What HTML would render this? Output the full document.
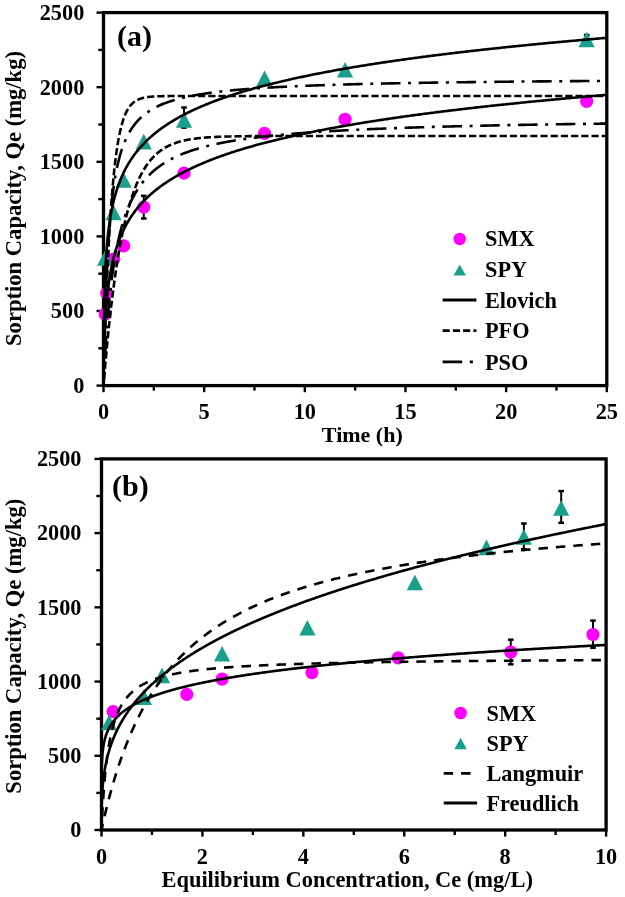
<!DOCTYPE html>
<html><head><meta charset="utf-8"><style>
html,body{margin:0;padding:0;background:#fff;width:625px;height:897px;overflow:hidden}
svg{position:absolute;left:0;top:0;will-change:transform}
.t{font-family:"Liberation Serif", serif;font-weight:bold;font-size:22.30px;fill:#000}
.big{font-family:"Liberation Serif", serif;font-weight:bold;font-size:30px;fill:#000}
</style></head><body>
<svg width="625" height="897" viewBox="0 0 625 897">
<rect x="103.50" y="12.60" width="503.30" height="373.00" fill="none" stroke="#000" stroke-width="3.3"/>
<line x1="96.50" y1="385.60" x2="103.50" y2="385.60" stroke="#000" stroke-width="2.4"/>
<text x="84.30" y="392.90" text-anchor="end" class="t">0</text>
<line x1="98.30" y1="348.30" x2="103.50" y2="348.30" stroke="#000" stroke-width="2.4"/>
<line x1="96.50" y1="311.00" x2="103.50" y2="311.00" stroke="#000" stroke-width="2.4"/>
<text x="84.30" y="318.30" text-anchor="end" class="t">500</text>
<line x1="98.30" y1="273.70" x2="103.50" y2="273.70" stroke="#000" stroke-width="2.4"/>
<line x1="96.50" y1="236.40" x2="103.50" y2="236.40" stroke="#000" stroke-width="2.4"/>
<text x="84.30" y="243.70" text-anchor="end" class="t">1000</text>
<line x1="98.30" y1="199.10" x2="103.50" y2="199.10" stroke="#000" stroke-width="2.4"/>
<line x1="96.50" y1="161.80" x2="103.50" y2="161.80" stroke="#000" stroke-width="2.4"/>
<text x="84.30" y="169.10" text-anchor="end" class="t">1500</text>
<line x1="98.30" y1="124.50" x2="103.50" y2="124.50" stroke="#000" stroke-width="2.4"/>
<line x1="96.50" y1="87.20" x2="103.50" y2="87.20" stroke="#000" stroke-width="2.4"/>
<text x="84.30" y="94.50" text-anchor="end" class="t">2000</text>
<line x1="98.30" y1="49.90" x2="103.50" y2="49.90" stroke="#000" stroke-width="2.4"/>
<line x1="96.50" y1="12.60" x2="103.50" y2="12.60" stroke="#000" stroke-width="2.4"/>
<text x="84.30" y="19.90" text-anchor="end" class="t">2500</text>
<line x1="103.50" y1="385.60" x2="103.50" y2="392.20" stroke="#000" stroke-width="2.4"/>
<text x="103.50" y="419.20" text-anchor="middle" class="t">0</text>
<line x1="153.83" y1="385.60" x2="153.83" y2="390.60" stroke="#000" stroke-width="2.4"/>
<line x1="204.16" y1="385.60" x2="204.16" y2="392.20" stroke="#000" stroke-width="2.4"/>
<text x="204.16" y="419.20" text-anchor="middle" class="t">5</text>
<line x1="254.49" y1="385.60" x2="254.49" y2="390.60" stroke="#000" stroke-width="2.4"/>
<line x1="304.82" y1="385.60" x2="304.82" y2="392.20" stroke="#000" stroke-width="2.4"/>
<text x="304.82" y="419.20" text-anchor="middle" class="t">10</text>
<line x1="355.15" y1="385.60" x2="355.15" y2="390.60" stroke="#000" stroke-width="2.4"/>
<line x1="405.48" y1="385.60" x2="405.48" y2="392.20" stroke="#000" stroke-width="2.4"/>
<text x="405.48" y="419.20" text-anchor="middle" class="t">15</text>
<line x1="455.81" y1="385.60" x2="455.81" y2="390.60" stroke="#000" stroke-width="2.4"/>
<line x1="506.14" y1="385.60" x2="506.14" y2="392.20" stroke="#000" stroke-width="2.4"/>
<text x="506.14" y="419.20" text-anchor="middle" class="t">20</text>
<line x1="556.47" y1="385.60" x2="556.47" y2="390.60" stroke="#000" stroke-width="2.4"/>
<line x1="606.80" y1="385.60" x2="606.80" y2="392.20" stroke="#000" stroke-width="2.4"/>
<text x="606.80" y="419.20" text-anchor="middle" class="t">25</text>
<line x1="184.03" y1="107.50" x2="184.03" y2="127.60" stroke="#000" stroke-width="2.0"/>
<line x1="181.23" y1="107.50" x2="186.83" y2="107.50" stroke="#000" stroke-width="2.5"/>
<line x1="181.23" y1="127.60" x2="186.83" y2="127.60" stroke="#000" stroke-width="2.5"/>
<line x1="586.67" y1="35.00" x2="586.67" y2="45.00" stroke="#000" stroke-width="2.0"/>
<line x1="583.87" y1="35.00" x2="589.47" y2="35.00" stroke="#000" stroke-width="2.5"/>
<line x1="583.87" y1="45.00" x2="589.47" y2="45.00" stroke="#000" stroke-width="2.5"/>
<line x1="143.76" y1="195.82" x2="143.76" y2="218.50" stroke="#000" stroke-width="2.0"/>
<line x1="140.96" y1="195.82" x2="146.56" y2="195.82" stroke="#000" stroke-width="2.5"/>
<line x1="140.96" y1="218.50" x2="146.56" y2="218.50" stroke="#000" stroke-width="2.5"/>
<circle cx="105.17" cy="313.98" r="6.60" fill="#ff00ff"/>
<circle cx="106.72" cy="293.10" r="6.60" fill="#ff00ff"/>
<circle cx="113.57" cy="259.08" r="6.60" fill="#ff00ff"/>
<circle cx="123.63" cy="245.95" r="6.60" fill="#ff00ff"/>
<circle cx="143.76" cy="207.16" r="6.60" fill="#ff00ff"/>
<circle cx="184.03" cy="173.14" r="6.60" fill="#ff00ff"/>
<circle cx="264.56" cy="133.45" r="6.60" fill="#ff00ff"/>
<circle cx="345.08" cy="119.28" r="6.60" fill="#ff00ff"/>
<circle cx="586.67" cy="101.37" r="6.60" fill="#ff00ff"/>
<path d="M105.17,250.23 L113.27,265.83 L97.07,265.83 Z" fill="#1b9f8d"/>
<path d="M113.57,204.73 L121.67,220.33 L105.47,220.33 Z" fill="#1b9f8d"/>
<path d="M123.63,172.20 L131.73,187.80 L115.53,187.80 Z" fill="#1b9f8d"/>
<path d="M143.76,133.86 L151.86,149.46 L135.66,149.46 Z" fill="#1b9f8d"/>
<path d="M184.03,112.22 L192.13,127.82 L175.93,127.82 Z" fill="#1b9f8d"/>
<path d="M264.56,70.45 L272.66,86.05 L256.46,86.05 Z" fill="#1b9f8d"/>
<path d="M345.08,61.94 L353.18,77.54 L336.98,77.54 Z" fill="#1b9f8d"/>
<path d="M586.67,31.66 L594.77,47.26 L578.57,47.26 Z" fill="#1b9f8d"/>
<path d="M103.50,385.60 L103.50,385.47 L103.50,385.01 L103.50,384.17 L103.51,382.95 L103.51,381.35 L103.52,379.40 L103.53,377.14 L103.54,374.60 L103.55,371.84 L103.56,368.88 L103.58,365.78 L103.59,362.58 L103.61,359.30 L103.63,355.98 L103.65,352.63 L103.67,349.29 L103.70,345.95 L103.72,342.65 L103.75,339.39 L103.78,336.17 L103.82,333.00 L103.85,329.89 L103.89,326.84 L103.92,323.85 L103.96,320.92 L104.00,318.05 L104.05,315.24 L104.09,312.49 L104.14,309.80 L104.19,307.17 L104.24,304.60 L104.30,302.08 L104.35,299.62 L104.41,297.21 L104.47,294.85 L104.53,292.54 L104.60,290.28 L104.66,288.07 L104.73,285.90 L104.80,283.78 L104.87,281.70 L104.95,279.66 L105.03,277.66 L105.11,275.69 L105.19,273.77 L105.27,271.88 L105.36,270.02 L105.44,268.20 L105.53,266.41 L105.63,264.66 L105.72,262.93 L105.82,261.23 L105.92,259.56 L106.02,257.92 L106.12,256.31 L106.23,254.72 L106.34,253.16 L106.45,251.62 L106.56,250.11 L106.68,248.62 L106.79,247.15 L106.91,245.71 L107.04,244.28 L107.16,242.88 L107.29,241.50 L107.42,240.13 L107.55,238.79 L107.68,237.46 L107.82,236.16 L107.96,234.87 L108.10,233.59 L108.24,232.34 L108.39,231.10 L108.54,229.87 L108.69,228.66 L108.84,227.47 L109.00,226.29 L109.16,225.13 L109.32,223.98 L109.48,222.84 L109.65,221.72 L109.81,220.61 L109.98,219.51 L110.16,218.43 L110.33,217.36 L110.51,216.30 L110.69,215.25 L110.87,214.22 L111.06,213.19 L111.25,212.18 L111.44,211.17 L111.63,210.18 L111.83,209.20 L112.03,208.23 L112.23,207.26 L112.43,206.31 L112.64,205.37 L112.85,204.44 L113.06,203.51 L113.27,202.60 L113.49,201.69 L113.71,200.79 L113.93,199.90 L114.15,199.02 L114.38,198.15 L114.61,197.29 L114.84,196.43 L115.07,195.58 L115.31,194.74 L115.55,193.91 L115.79,193.08 L116.04,192.26 L116.28,191.45 L116.53,190.65 L116.79,189.85 L117.04,189.06 L117.30,188.27 L117.56,187.49 L117.83,186.72 L118.09,185.96 L118.36,185.20 L118.63,184.45 L118.91,183.70 L119.18,182.96 L119.46,182.22 L119.74,181.49 L120.03,180.77 L120.32,180.05 L120.61,179.34 L120.90,178.63 L121.20,177.93 L121.50,177.23 L121.80,176.54 L122.10,175.86 L122.41,175.18 L122.72,174.50 L123.03,173.83 L123.34,173.16 L123.66,172.50 L123.98,171.84 L124.31,171.19 L124.63,170.54 L124.96,169.90 L125.29,169.26 L125.63,168.62 L125.96,167.99 L126.30,167.37 L126.65,166.75 L126.99,166.13 L127.34,165.52 L127.69,164.91 L128.04,164.30 L128.40,163.70 L128.76,163.10 L129.12,162.51 L129.49,161.92 L129.86,161.33 L130.23,160.75 L130.60,160.17 L130.98,159.59 L131.36,159.02 L131.74,158.45 L132.12,157.89 L132.51,157.32 L132.90,156.77 L133.29,156.21 L133.69,155.66 L134.09,155.11 L134.49,154.57 L134.90,154.02 L135.30,153.48 L135.71,152.95 L136.13,152.42 L136.54,151.89 L136.96,151.36 L137.39,150.84 L137.81,150.32 L138.24,149.80 L138.67,149.28 L139.10,148.77 L139.54,148.26 L139.98,147.76 L140.42,147.25 L140.87,146.75 L141.32,146.25 L141.77,145.76 L142.22,145.26 L142.68,144.77 L143.14,144.29 L143.60,143.80 L144.07,143.32 L144.54,142.84 L145.01,142.36 L145.48,141.89 L145.96,141.41 L146.44,140.94 L146.92,140.47 L147.41,140.01 L147.90,139.54 L148.39,139.08 L148.89,138.63 L149.38,138.17 L149.89,137.71 L150.39,137.26 L150.90,136.81 L151.41,136.36 L151.92,135.92 L152.44,135.48 L152.96,135.03 L153.48,134.60 L154.00,134.16 L154.53,133.72 L155.06,133.29 L155.60,132.86 L156.13,132.43 L156.67,132.00 L157.22,131.58 L157.76,131.16 L158.31,130.73 L158.86,130.32 L159.42,129.90 L159.98,129.48 L160.54,129.07 L161.10,128.66 L161.67,128.25 L162.24,127.84 L162.81,127.43 L163.39,127.03 L163.97,126.63 L164.55,126.22 L165.14,125.82 L165.73,125.43 L166.32,125.03 L166.91,124.64 L167.51,124.24 L168.11,123.85 L168.71,123.46 L169.32,123.08 L169.93,122.69 L170.54,122.31 L171.16,121.92 L171.78,121.54 L172.40,121.16 L173.03,120.78 L173.66,120.41 L174.29,120.03 L174.92,119.66 L175.56,119.29 L176.20,118.92 L176.84,118.55 L177.49,118.18 L178.14,117.81 L178.79,117.45 L179.45,117.09 L180.11,116.72 L180.77,116.36 L181.44,116.00 L182.11,115.65 L182.78,115.29 L183.45,114.94 L184.13,114.58 L184.81,114.23 L185.50,113.88 L186.18,113.53 L186.87,113.18 L187.57,112.83 L188.27,112.49 L188.97,112.15 L189.67,111.80 L190.37,111.46 L191.08,111.12 L191.80,110.78 L192.51,110.44 L193.23,110.11 L193.95,109.77 L194.68,109.44 L195.41,109.10 L196.14,108.77 L196.87,108.44 L197.61,108.11 L198.35,107.78 L199.10,107.46 L199.84,107.13 L200.59,106.80 L201.35,106.48 L202.11,106.16 L202.87,105.84 L203.63,105.52 L204.39,105.20 L205.16,104.88 L205.94,104.56 L206.71,104.24 L207.49,103.93 L208.28,103.62 L209.06,103.30 L209.85,102.99 L210.64,102.68 L211.44,102.37 L212.24,102.06 L213.04,101.75 L213.84,101.45 L214.65,101.14 L215.46,100.84 L216.28,100.53 L217.09,100.23 L217.91,99.93 L218.74,99.63 L219.57,99.33 L220.40,99.03 L221.23,98.73 L222.07,98.44 L222.91,98.14 L223.75,97.85 L224.60,97.55 L225.45,97.26 L226.30,96.97 L227.16,96.68 L228.02,96.39 L228.88,96.10 L229.75,95.81 L230.62,95.52 L231.49,95.23 L232.37,94.95 L233.25,94.66 L234.13,94.38 L235.01,94.10 L235.90,93.81 L236.80,93.53 L237.69,93.25 L238.59,92.97 L239.49,92.69 L240.40,92.42 L241.31,92.14 L242.22,91.86 L243.13,91.59 L244.05,91.31 L244.98,91.04 L245.90,90.77 L246.83,90.49 L247.76,90.22 L248.70,89.95 L249.63,89.68 L250.58,89.41 L251.52,89.14 L252.47,88.88 L253.42,88.61 L254.38,88.34 L255.33,88.08 L256.30,87.81 L257.26,87.55 L258.23,87.29 L259.20,87.03 L260.17,86.76 L261.15,86.50 L262.13,86.24 L263.12,85.98 L264.11,85.73 L265.10,85.47 L266.09,85.21 L267.09,84.95 L268.09,84.70 L269.10,84.44 L270.11,84.19 L271.12,83.94 L272.13,83.68 L273.15,83.43 L274.17,83.18 L275.20,82.93 L276.22,82.68 L277.26,82.43 L278.29,82.18 L279.33,81.93 L280.37,81.68 L281.41,81.44 L282.46,81.19 L283.51,80.95 L284.57,80.70 L285.63,80.46 L286.69,80.21 L287.75,79.97 L288.82,79.73 L289.89,79.49 L290.97,79.25 L292.05,79.01 L293.13,78.77 L294.22,78.53 L295.30,78.29 L296.40,78.05 L297.49,77.81 L298.59,77.58 L299.69,77.34 L300.80,77.11 L301.91,76.87 L303.02,76.64 L304.14,76.40 L305.25,76.17 L306.38,75.94 L307.50,75.71 L308.63,75.47 L309.77,75.24 L310.90,75.01 L312.04,74.78 L313.18,74.55 L314.33,74.33 L315.48,74.10 L316.63,73.87 L317.79,73.64 L318.95,73.42 L320.11,73.19 L321.28,72.97 L322.45,72.74 L323.62,72.52 L324.80,72.29 L325.98,72.07 L327.17,71.85 L328.35,71.63 L329.54,71.41 L330.74,71.19 L331.94,70.97 L333.14,70.75 L334.34,70.53 L335.55,70.31 L336.76,70.09 L337.98,69.87 L339.19,69.65 L340.42,69.44 L341.64,69.22 L342.87,69.01 L344.10,68.79 L345.34,68.58 L346.58,68.36 L347.82,68.15 L349.07,67.94 L350.32,67.72 L351.57,67.51 L352.82,67.30 L354.08,67.09 L355.35,66.88 L356.61,66.67 L357.88,66.46 L359.16,66.25 L360.43,66.04 L361.72,65.83 L363.00,65.62 L364.29,65.42 L365.58,65.21 L366.87,65.00 L368.17,64.80 L369.47,64.59 L370.78,64.39 L372.09,64.18 L373.40,63.98 L374.71,63.77 L376.03,63.57 L377.35,63.37 L378.68,63.16 L380.01,62.96 L381.34,62.76 L382.68,62.56 L384.02,62.36 L385.36,62.16 L386.71,61.96 L388.06,61.76 L389.41,61.56 L390.77,61.36 L392.13,61.16 L393.50,60.97 L394.86,60.77 L396.23,60.57 L397.61,60.38 L398.99,60.18 L400.37,59.98 L401.76,59.79 L403.14,59.59 L404.54,59.40 L405.93,59.21 L407.33,59.01 L408.74,58.82 L410.14,58.63 L411.55,58.43 L412.97,58.24 L414.38,58.05 L415.80,57.86 L417.23,57.67 L418.66,57.48 L420.09,57.29 L421.52,57.10 L422.96,56.91 L424.40,56.72 L425.85,56.53 L427.30,56.35 L428.75,56.16 L430.21,55.97 L431.67,55.78 L433.13,55.60 L434.60,55.41 L436.07,55.23 L437.54,55.04 L439.02,54.86 L440.50,54.67 L441.98,54.49 L443.47,54.30 L444.96,54.12 L446.46,53.94 L447.96,53.75 L449.46,53.57 L450.97,53.39 L452.48,53.21 L453.99,53.03 L455.50,52.85 L457.03,52.66 L458.55,52.48 L460.08,52.30 L461.61,52.12 L463.14,51.95 L464.68,51.77 L466.22,51.59 L467.77,51.41 L469.32,51.23 L470.87,51.05 L472.42,50.88 L473.98,50.70 L475.55,50.52 L477.11,50.35 L478.68,50.17 L480.26,50.00 L481.84,49.82 L483.42,49.65 L485.00,49.47 L486.59,49.30 L488.18,49.12 L489.78,48.95 L491.38,48.78 L492.98,48.61 L494.59,48.43 L496.20,48.26 L497.81,48.09 L499.43,47.92 L501.05,47.75 L502.67,47.58 L504.30,47.40 L505.93,47.23 L507.57,47.06 L509.21,46.89 L510.85,46.73 L512.49,46.56 L514.14,46.39 L515.80,46.22 L517.46,46.05 L519.12,45.88 L520.78,45.72 L522.45,45.55 L524.12,45.38 L525.79,45.21 L527.47,45.05 L529.16,44.88 L530.84,44.72 L532.53,44.55 L534.23,44.39 L535.92,44.22 L537.62,44.06 L539.33,43.89 L541.03,43.73 L542.75,43.57 L544.46,43.40 L546.18,43.24 L547.90,43.08 L549.63,42.91 L551.36,42.75 L553.09,42.59 L554.83,42.43 L556.57,42.27 L558.31,42.11 L560.06,41.94 L561.81,41.78 L563.57,41.62 L565.33,41.46 L567.09,41.30 L568.86,41.15 L570.63,40.99 L572.40,40.83 L574.18,40.67 L575.96,40.51 L577.74,40.35 L579.53,40.19 L581.33,40.04 L583.12,39.88 L584.92,39.72 L586.72,39.57 L588.53,39.41 L590.34,39.25 L592.15,39.10 L593.97,38.94 L595.79,38.79 L597.62,38.63 L599.45,38.48 L601.28,38.32 L603.12,38.17 L604.96,38.01 L606.80,37.86" fill="none" stroke="#000" stroke-width="2.60" stroke-linejoin="round"/>
<path d="M103.50,385.60 L103.50,385.57 L103.50,385.45 L103.50,385.24 L103.51,384.93 L103.51,384.51 L103.52,383.99 L103.53,383.35 L103.54,382.61 L103.55,381.77 L103.56,380.83 L103.58,379.78 L103.59,378.65 L103.61,377.44 L103.63,376.14 L103.65,374.78 L103.67,373.35 L103.70,371.86 L103.72,370.31 L103.75,368.72 L103.78,367.09 L103.82,365.43 L103.85,363.73 L103.89,362.02 L103.92,360.28 L103.96,358.53 L104.00,356.76 L104.05,354.99 L104.09,353.21 L104.14,351.44 L104.19,349.66 L104.24,347.89 L104.30,346.12 L104.35,344.36 L104.41,342.61 L104.47,340.87 L104.53,339.15 L104.60,337.43 L104.66,335.73 L104.73,334.04 L104.80,332.37 L104.87,330.72 L104.95,329.08 L105.03,327.45 L105.11,325.85 L105.19,324.26 L105.27,322.68 L105.36,321.13 L105.44,319.59 L105.53,318.07 L105.63,316.56 L105.72,315.08 L105.82,313.61 L105.92,312.15 L106.02,310.72 L106.12,309.30 L106.23,307.89 L106.34,306.50 L106.45,305.13 L106.56,303.78 L106.68,302.44 L106.79,301.11 L106.91,299.80 L107.04,298.51 L107.16,297.23 L107.29,295.96 L107.42,294.71 L107.55,293.48 L107.68,292.25 L107.82,291.04 L107.96,289.85 L108.10,288.66 L108.24,287.49 L108.39,286.34 L108.54,285.19 L108.69,284.06 L108.84,282.94 L109.00,281.83 L109.16,280.73 L109.32,279.65 L109.48,278.57 L109.65,277.51 L109.81,276.45 L109.98,275.41 L110.16,274.38 L110.33,273.36 L110.51,272.35 L110.69,271.35 L110.87,270.36 L111.06,269.37 L111.25,268.40 L111.44,267.44 L111.63,266.48 L111.83,265.54 L112.03,264.60 L112.23,263.67 L112.43,262.76 L112.64,261.85 L112.85,260.94 L113.06,260.05 L113.27,259.16 L113.49,258.28 L113.71,257.41 L113.93,256.55 L114.15,255.69 L114.38,254.85 L114.61,254.00 L114.84,253.17 L115.07,252.34 L115.31,251.52 L115.55,250.71 L115.79,249.90 L116.04,249.10 L116.28,248.31 L116.53,247.52 L116.79,246.74 L117.04,245.97 L117.30,245.20 L117.56,244.44 L117.83,243.68 L118.09,242.93 L118.36,242.19 L118.63,241.45 L118.91,240.71 L119.18,239.98 L119.46,239.26 L119.74,238.54 L120.03,237.83 L120.32,237.13 L120.61,236.42 L120.90,235.73 L121.20,235.04 L121.50,234.35 L121.80,233.67 L122.10,232.99 L122.41,232.32 L122.72,231.65 L123.03,230.99 L123.34,230.33 L123.66,229.68 L123.98,229.03 L124.31,228.38 L124.63,227.74 L124.96,227.10 L125.29,226.47 L125.63,225.84 L125.96,225.22 L126.30,224.60 L126.65,223.98 L126.99,223.37 L127.34,222.76 L127.69,222.16 L128.04,221.56 L128.40,220.96 L128.76,220.37 L129.12,219.78 L129.49,219.19 L129.86,218.61 L130.23,218.03 L130.60,217.46 L130.98,216.89 L131.36,216.32 L131.74,215.75 L132.12,215.19 L132.51,214.63 L132.90,214.08 L133.29,213.53 L133.69,212.98 L134.09,212.43 L134.49,211.89 L134.90,211.35 L135.30,210.82 L135.71,210.28 L136.13,209.75 L136.54,209.23 L136.96,208.70 L137.39,208.18 L137.81,207.66 L138.24,207.15 L138.67,206.63 L139.10,206.12 L139.54,205.62 L139.98,205.11 L140.42,204.61 L140.87,204.11 L141.32,203.61 L141.77,203.12 L142.22,202.63 L142.68,202.14 L143.14,201.65 L143.60,201.17 L144.07,200.69 L144.54,200.21 L145.01,199.73 L145.48,199.26 L145.96,198.79 L146.44,198.32 L146.92,197.85 L147.41,197.38 L147.90,196.92 L148.39,196.46 L148.89,196.00 L149.38,195.55 L149.89,195.09 L150.39,194.64 L150.90,194.19 L151.41,193.75 L151.92,193.30 L152.44,192.86 L152.96,192.42 L153.48,191.98 L154.00,191.54 L154.53,191.11 L155.06,190.67 L155.60,190.24 L156.13,189.81 L156.67,189.39 L157.22,188.96 L157.76,188.54 L158.31,188.12 L158.86,187.70 L159.42,187.28 L159.98,186.87 L160.54,186.45 L161.10,186.04 L161.67,185.63 L162.24,185.22 L162.81,184.81 L163.39,184.41 L163.97,184.01 L164.55,183.61 L165.14,183.21 L165.73,182.81 L166.32,182.41 L166.91,182.02 L167.51,181.62 L168.11,181.23 L168.71,180.84 L169.32,180.45 L169.93,180.07 L170.54,179.68 L171.16,179.30 L171.78,178.92 L172.40,178.54 L173.03,178.16 L173.66,177.78 L174.29,177.41 L174.92,177.03 L175.56,176.66 L176.20,176.29 L176.84,175.92 L177.49,175.55 L178.14,175.18 L178.79,174.82 L179.45,174.45 L180.11,174.09 L180.77,173.73 L181.44,173.37 L182.11,173.01 L182.78,172.66 L183.45,172.30 L184.13,171.95 L184.81,171.59 L185.50,171.24 L186.18,170.89 L186.87,170.54 L187.57,170.19 L188.27,169.85 L188.97,169.50 L189.67,169.16 L190.37,168.82 L191.08,168.47 L191.80,168.13 L192.51,167.80 L193.23,167.46 L193.95,167.12 L194.68,166.79 L195.41,166.45 L196.14,166.12 L196.87,165.79 L197.61,165.46 L198.35,165.13 L199.10,164.80 L199.84,164.47 L200.59,164.15 L201.35,163.82 L202.11,163.50 L202.87,163.18 L203.63,162.85 L204.39,162.53 L205.16,162.21 L205.94,161.90 L206.71,161.58 L207.49,161.26 L208.28,160.95 L209.06,160.63 L209.85,160.32 L210.64,160.01 L211.44,159.70 L212.24,159.39 L213.04,159.08 L213.84,158.77 L214.65,158.47 L215.46,158.16 L216.28,157.86 L217.09,157.55 L217.91,157.25 L218.74,156.95 L219.57,156.65 L220.40,156.35 L221.23,156.05 L222.07,155.75 L222.91,155.45 L223.75,155.16 L224.60,154.86 L225.45,154.57 L226.30,154.28 L227.16,153.98 L228.02,153.69 L228.88,153.40 L229.75,153.11 L230.62,152.82 L231.49,152.53 L232.37,152.25 L233.25,151.96 L234.13,151.68 L235.01,151.39 L235.90,151.11 L236.80,150.83 L237.69,150.55 L238.59,150.26 L239.49,149.98 L240.40,149.71 L241.31,149.43 L242.22,149.15 L243.13,148.87 L244.05,148.60 L244.98,148.32 L245.90,148.05 L246.83,147.77 L247.76,147.50 L248.70,147.23 L249.63,146.96 L250.58,146.69 L251.52,146.42 L252.47,146.15 L253.42,145.88 L254.38,145.61 L255.33,145.35 L256.30,145.08 L257.26,144.82 L258.23,144.55 L259.20,144.29 L260.17,144.03 L261.15,143.77 L262.13,143.50 L263.12,143.24 L264.11,142.98 L265.10,142.73 L266.09,142.47 L267.09,142.21 L268.09,141.95 L269.10,141.70 L270.11,141.44 L271.12,141.19 L272.13,140.93 L273.15,140.68 L274.17,140.43 L275.20,140.17 L276.22,139.92 L277.26,139.67 L278.29,139.42 L279.33,139.17 L280.37,138.92 L281.41,138.68 L282.46,138.43 L283.51,138.18 L284.57,137.94 L285.63,137.69 L286.69,137.45 L287.75,137.20 L288.82,136.96 L289.89,136.72 L290.97,136.47 L292.05,136.23 L293.13,135.99 L294.22,135.75 L295.30,135.51 L296.40,135.27 L297.49,135.03 L298.59,134.80 L299.69,134.56 L300.80,134.32 L301.91,134.09 L303.02,133.85 L304.14,133.62 L305.25,133.38 L306.38,133.15 L307.50,132.91 L308.63,132.68 L309.77,132.45 L310.90,132.22 L312.04,131.99 L313.18,131.76 L314.33,131.53 L315.48,131.30 L316.63,131.07 L317.79,130.84 L318.95,130.61 L320.11,130.39 L321.28,130.16 L322.45,129.94 L323.62,129.71 L324.80,129.49 L325.98,129.26 L327.17,129.04 L328.35,128.82 L329.54,128.59 L330.74,128.37 L331.94,128.15 L333.14,127.93 L334.34,127.71 L335.55,127.49 L336.76,127.27 L337.98,127.05 L339.19,126.83 L340.42,126.61 L341.64,126.40 L342.87,126.18 L344.10,125.96 L345.34,125.75 L346.58,125.53 L347.82,125.32 L349.07,125.10 L350.32,124.89 L351.57,124.68 L352.82,124.46 L354.08,124.25 L355.35,124.04 L356.61,123.83 L357.88,123.62 L359.16,123.41 L360.43,123.20 L361.72,122.99 L363.00,122.78 L364.29,122.57 L365.58,122.36 L366.87,122.15 L368.17,121.95 L369.47,121.74 L370.78,121.53 L372.09,121.33 L373.40,121.12 L374.71,120.92 L376.03,120.71 L377.35,120.51 L378.68,120.30 L380.01,120.10 L381.34,119.90 L382.68,119.70 L384.02,119.49 L385.36,119.29 L386.71,119.09 L388.06,118.89 L389.41,118.69 L390.77,118.49 L392.13,118.29 L393.50,118.09 L394.86,117.90 L396.23,117.70 L397.61,117.50 L398.99,117.30 L400.37,117.11 L401.76,116.91 L403.14,116.71 L404.54,116.52 L405.93,116.32 L407.33,116.13 L408.74,115.94 L410.14,115.74 L411.55,115.55 L412.97,115.36 L414.38,115.16 L415.80,114.97 L417.23,114.78 L418.66,114.59 L420.09,114.40 L421.52,114.21 L422.96,114.02 L424.40,113.83 L425.85,113.64 L427.30,113.45 L428.75,113.26 L430.21,113.07 L431.67,112.88 L433.13,112.69 L434.60,112.51 L436.07,112.32 L437.54,112.13 L439.02,111.95 L440.50,111.76 L441.98,111.58 L443.47,111.39 L444.96,111.21 L446.46,111.02 L447.96,110.84 L449.46,110.66 L450.97,110.47 L452.48,110.29 L453.99,110.11 L455.50,109.93 L457.03,109.74 L458.55,109.56 L460.08,109.38 L461.61,109.20 L463.14,109.02 L464.68,108.84 L466.22,108.66 L467.77,108.48 L469.32,108.30 L470.87,108.12 L472.42,107.95 L473.98,107.77 L475.55,107.59 L477.11,107.41 L478.68,107.24 L480.26,107.06 L481.84,106.88 L483.42,106.71 L485.00,106.53 L486.59,106.36 L488.18,106.18 L489.78,106.01 L491.38,105.83 L492.98,105.66 L494.59,105.49 L496.20,105.31 L497.81,105.14 L499.43,104.97 L501.05,104.80 L502.67,104.62 L504.30,104.45 L505.93,104.28 L507.57,104.11 L509.21,103.94 L510.85,103.77 L512.49,103.60 L514.14,103.43 L515.80,103.26 L517.46,103.09 L519.12,102.92 L520.78,102.75 L522.45,102.58 L524.12,102.42 L525.79,102.25 L527.47,102.08 L529.16,101.91 L530.84,101.75 L532.53,101.58 L534.23,101.42 L535.92,101.25 L537.62,101.08 L539.33,100.92 L541.03,100.75 L542.75,100.59 L544.46,100.42 L546.18,100.26 L547.90,100.10 L549.63,99.93 L551.36,99.77 L553.09,99.61 L554.83,99.44 L556.57,99.28 L558.31,99.12 L560.06,98.96 L561.81,98.80 L563.57,98.64 L565.33,98.47 L567.09,98.31 L568.86,98.15 L570.63,97.99 L572.40,97.83 L574.18,97.67 L575.96,97.51 L577.74,97.36 L579.53,97.20 L581.33,97.04 L583.12,96.88 L584.92,96.72 L586.72,96.56 L588.53,96.41 L590.34,96.25 L592.15,96.09 L593.97,95.94 L595.79,95.78 L597.62,95.62 L599.45,95.47 L601.28,95.31 L603.12,95.16 L604.96,95.00 L606.80,94.85" fill="none" stroke="#000" stroke-width="2.60" stroke-linejoin="round"/>
<path d="M103.50,385.60 L103.50,385.59 L103.50,385.53 L103.50,385.44 L103.51,385.30 L103.51,385.11 L103.52,384.87 L103.53,384.57 L103.54,384.22 L103.55,383.81 L103.56,383.35 L103.58,382.82 L103.59,382.24 L103.61,381.60 L103.63,380.90 L103.65,380.13 L103.67,379.31 L103.70,378.42 L103.72,377.48 L103.75,376.47 L103.78,375.39 L103.82,374.26 L103.85,373.07 L103.89,371.81 L103.92,370.49 L103.96,369.11 L104.00,367.67 L104.05,366.18 L104.09,364.62 L104.14,363.00 L104.19,361.33 L104.24,359.59 L104.30,357.81 L104.35,355.96 L104.41,354.06 L104.47,352.11 L104.53,350.11 L104.60,348.05 L104.66,345.95 L104.73,343.79 L104.80,341.59 L104.87,339.34 L104.95,337.04 L105.03,334.70 L105.11,332.32 L105.19,329.90 L105.27,327.44 L105.36,324.94 L105.44,322.40 L105.53,319.83 L105.63,317.22 L105.72,314.59 L105.82,311.92 L105.92,309.22 L106.02,306.50 L106.12,303.75 L106.23,300.98 L106.34,298.19 L106.45,295.37 L106.56,292.54 L106.68,289.69 L106.79,286.83 L106.91,283.95 L107.04,281.06 L107.16,278.16 L107.29,275.26 L107.42,272.34 L107.55,269.43 L107.68,266.50 L107.82,263.58 L107.96,260.66 L108.10,257.74 L108.24,254.82 L108.39,251.91 L108.54,249.00 L108.69,246.10 L108.84,243.22 L109.00,240.34 L109.16,237.47 L109.32,234.62 L109.48,231.79 L109.65,228.97 L109.81,226.16 L109.98,223.38 L110.16,220.62 L110.33,217.88 L110.51,215.16 L110.69,212.46 L110.87,209.79 L111.06,207.15 L111.25,204.53 L111.44,201.94 L111.63,199.38 L111.83,196.85 L112.03,194.35 L112.23,191.88 L112.43,189.44 L112.64,187.03 L112.85,184.66 L113.06,182.32 L113.27,180.02 L113.49,177.75 L113.71,175.51 L113.93,173.31 L114.15,171.15 L114.38,169.02 L114.61,166.94 L114.84,164.88 L115.07,162.87 L115.31,160.89 L115.55,158.95 L115.79,157.05 L116.04,155.18 L116.28,153.36 L116.53,151.57 L116.79,149.81 L117.04,148.10 L117.30,146.42 L117.56,144.79 L117.83,143.19 L118.09,141.62 L118.36,140.09 L118.63,138.60 L118.91,137.15 L119.18,135.73 L119.46,134.35 L119.74,133.00 L120.03,131.69 L120.32,130.41 L120.61,129.17 L120.90,127.96 L121.20,126.79 L121.50,125.64 L121.80,124.53 L122.10,123.46 L122.41,122.41 L122.72,121.39 L123.03,120.41 L123.34,119.46 L123.66,118.53 L123.98,117.63 L124.31,116.77 L124.63,115.93 L124.96,115.11 L125.29,114.33 L125.63,113.57 L125.96,112.83 L126.30,112.12 L126.65,111.44 L126.99,110.78 L127.34,110.14 L127.69,109.53 L128.04,108.93 L128.40,108.36 L128.76,107.81 L129.12,107.28 L129.49,106.77 L129.86,106.28 L130.23,105.81 L130.60,105.36 L130.98,104.92 L131.36,104.50 L131.74,104.10 L132.12,103.72 L132.51,103.35 L132.90,102.99 L133.29,102.65 L133.69,102.33 L134.09,102.02 L134.49,101.72 L134.90,101.43 L135.30,101.16 L135.71,100.90 L136.13,100.65 L136.54,100.41 L136.96,100.18 L137.39,99.96 L137.81,99.76 L138.24,99.56 L138.67,99.37 L139.10,99.19 L139.54,99.02 L139.98,98.85 L140.42,98.70 L140.87,98.55 L141.32,98.41 L141.77,98.28 L142.22,98.15 L142.68,98.03 L143.14,97.91 L143.60,97.81 L144.07,97.70 L144.54,97.60 L145.01,97.51 L145.48,97.42 L145.96,97.34 L146.44,97.26 L146.92,97.19 L147.41,97.12 L147.90,97.05 L148.39,96.99 L148.89,96.93 L149.38,96.87 L149.89,96.82 L150.39,96.77 L150.90,96.72 L151.41,96.67 L151.92,96.63 L152.44,96.59 L152.96,96.55 L153.48,96.52 L154.00,96.49 L154.53,96.45 L155.06,96.42 L155.60,96.40 L156.13,96.37 L156.67,96.35 L157.22,96.32 L157.76,96.30 L158.31,96.28 L158.86,96.26 L159.42,96.25 L159.98,96.23 L160.54,96.21 L161.10,96.20 L161.67,96.19 L162.24,96.17 L162.81,96.16 L163.39,96.15 L163.97,96.14 L164.55,96.13 L165.14,96.12 L165.73,96.11 L166.32,96.10 L166.91,96.10 L167.51,96.09 L168.11,96.08 L168.71,96.08 L169.32,96.07 L169.93,96.07 L170.54,96.06 L171.16,96.06 L171.78,96.05 L172.40,96.05 L173.03,96.05 L173.66,96.04 L174.29,96.04 L174.92,96.04 L175.56,96.03 L176.20,96.03 L176.84,96.03 L177.49,96.03 L178.14,96.03 L178.79,96.02 L179.45,96.02 L180.11,96.02 L180.77,96.02 L181.44,96.02 L182.11,96.02 L182.78,96.02 L183.45,96.01 L184.13,96.01 L184.81,96.01 L185.50,96.01 L186.18,96.01 L186.87,96.01 L187.57,96.01 L188.27,96.01 L188.97,96.01 L189.67,96.01 L190.37,96.01 L191.08,96.01 L191.80,96.01 L192.51,96.01 L193.23,96.01 L193.95,96.01 L194.68,96.01 L195.41,96.01 L196.14,96.01 L196.87,96.00 L197.61,96.00 L198.35,96.00 L199.10,96.00 L199.84,96.00 L200.59,96.00 L201.35,96.00 L202.11,96.00 L202.87,96.00 L203.63,96.00 L204.39,96.00 L205.16,96.00 L205.94,96.00 L206.71,96.00 L207.49,96.00 L208.28,96.00 L209.06,96.00 L209.85,96.00 L210.64,96.00 L211.44,96.00 L212.24,96.00 L213.04,96.00 L213.84,96.00 L214.65,96.00 L215.46,96.00 L216.28,96.00 L217.09,96.00 L217.91,96.00 L218.74,96.00 L219.57,96.00 L220.40,96.00 L221.23,96.00 L222.07,96.00 L222.91,96.00 L223.75,96.00 L224.60,96.00 L225.45,96.00 L226.30,96.00 L227.16,96.00 L228.02,96.00 L228.88,96.00 L229.75,96.00 L230.62,96.00 L231.49,96.00 L232.37,96.00 L233.25,96.00 L234.13,96.00 L235.01,96.00 L235.90,96.00 L236.80,96.00 L237.69,96.00 L238.59,96.00 L239.49,96.00 L240.40,96.00 L241.31,96.00 L242.22,96.00 L243.13,96.00 L244.05,96.00 L244.98,96.00 L245.90,96.00 L246.83,96.00 L247.76,96.00 L248.70,96.00 L249.63,96.00 L250.58,96.00 L251.52,96.00 L252.47,96.00 L253.42,96.00 L254.38,96.00 L255.33,96.00 L256.30,96.00 L257.26,96.00 L258.23,96.00 L259.20,96.00 L260.17,96.00 L261.15,96.00 L262.13,96.00 L263.12,96.00 L264.11,96.00 L265.10,96.00 L266.09,96.00 L267.09,96.00 L268.09,96.00 L269.10,96.00 L270.11,96.00 L271.12,96.00 L272.13,96.00 L273.15,96.00 L274.17,96.00 L275.20,96.00 L276.22,96.00 L277.26,96.00 L278.29,96.00 L279.33,96.00 L280.37,96.00 L281.41,96.00 L282.46,96.00 L283.51,96.00 L284.57,96.00 L285.63,96.00 L286.69,96.00 L287.75,96.00 L288.82,96.00 L289.89,96.00 L290.97,96.00 L292.05,96.00 L293.13,96.00 L294.22,96.00 L295.30,96.00 L296.40,96.00 L297.49,96.00 L298.59,96.00 L299.69,96.00 L300.80,96.00 L301.91,96.00 L303.02,96.00 L304.14,96.00 L305.25,96.00 L306.38,96.00 L307.50,96.00 L308.63,96.00 L309.77,96.00 L310.90,96.00 L312.04,96.00 L313.18,96.00 L314.33,96.00 L315.48,96.00 L316.63,96.00 L317.79,96.00 L318.95,96.00 L320.11,96.00 L321.28,96.00 L322.45,96.00 L323.62,96.00 L324.80,96.00 L325.98,96.00 L327.17,96.00 L328.35,96.00 L329.54,96.00 L330.74,96.00 L331.94,96.00 L333.14,96.00 L334.34,96.00 L335.55,96.00 L336.76,96.00 L337.98,96.00 L339.19,96.00 L340.42,96.00 L341.64,96.00 L342.87,96.00 L344.10,96.00 L345.34,96.00 L346.58,96.00 L347.82,96.00 L349.07,96.00 L350.32,96.00 L351.57,96.00 L352.82,96.00 L354.08,96.00 L355.35,96.00 L356.61,96.00 L357.88,96.00 L359.16,96.00 L360.43,96.00 L361.72,96.00 L363.00,96.00 L364.29,96.00 L365.58,96.00 L366.87,96.00 L368.17,96.00 L369.47,96.00 L370.78,96.00 L372.09,96.00 L373.40,96.00 L374.71,96.00 L376.03,96.00 L377.35,96.00 L378.68,96.00 L380.01,96.00 L381.34,96.00 L382.68,96.00 L384.02,96.00 L385.36,96.00 L386.71,96.00 L388.06,96.00 L389.41,96.00 L390.77,96.00 L392.13,96.00 L393.50,96.00 L394.86,96.00 L396.23,96.00 L397.61,96.00 L398.99,96.00 L400.37,96.00 L401.76,96.00 L403.14,96.00 L404.54,96.00 L405.93,96.00 L407.33,96.00 L408.74,96.00 L410.14,96.00 L411.55,96.00 L412.97,96.00 L414.38,96.00 L415.80,96.00 L417.23,96.00 L418.66,96.00 L420.09,96.00 L421.52,96.00 L422.96,96.00 L424.40,96.00 L425.85,96.00 L427.30,96.00 L428.75,96.00 L430.21,96.00 L431.67,96.00 L433.13,96.00 L434.60,96.00 L436.07,96.00 L437.54,96.00 L439.02,96.00 L440.50,96.00 L441.98,96.00 L443.47,96.00 L444.96,96.00 L446.46,96.00 L447.96,96.00 L449.46,96.00 L450.97,96.00 L452.48,96.00 L453.99,96.00 L455.50,96.00 L457.03,96.00 L458.55,96.00 L460.08,96.00 L461.61,96.00 L463.14,96.00 L464.68,96.00 L466.22,96.00 L467.77,96.00 L469.32,96.00 L470.87,96.00 L472.42,96.00 L473.98,96.00 L475.55,96.00 L477.11,96.00 L478.68,96.00 L480.26,96.00 L481.84,96.00 L483.42,96.00 L485.00,96.00 L486.59,96.00 L488.18,96.00 L489.78,96.00 L491.38,96.00 L492.98,96.00 L494.59,96.00 L496.20,96.00 L497.81,96.00 L499.43,96.00 L501.05,96.00 L502.67,96.00 L504.30,96.00 L505.93,96.00 L507.57,96.00 L509.21,96.00 L510.85,96.00 L512.49,96.00 L514.14,96.00 L515.80,96.00 L517.46,96.00 L519.12,96.00 L520.78,96.00 L522.45,96.00 L524.12,96.00 L525.79,96.00 L527.47,96.00 L529.16,96.00 L530.84,96.00 L532.53,96.00 L534.23,96.00 L535.92,96.00 L537.62,96.00 L539.33,96.00 L541.03,96.00 L542.75,96.00 L544.46,96.00 L546.18,96.00 L547.90,96.00 L549.63,96.00 L551.36,96.00 L553.09,96.00 L554.83,96.00 L556.57,96.00 L558.31,96.00 L560.06,96.00 L561.81,96.00 L563.57,96.00 L565.33,96.00 L567.09,96.00 L568.86,96.00 L570.63,96.00 L572.40,96.00 L574.18,96.00 L575.96,96.00 L577.74,96.00 L579.53,96.00 L581.33,96.00 L583.12,96.00 L584.92,96.00 L586.72,96.00 L588.53,96.00 L590.34,96.00 L592.15,96.00 L593.97,96.00 L595.79,96.00 L597.62,96.00 L599.45,96.00 L601.28,96.00 L603.12,96.00 L604.96,96.00 L606.80,96.00" fill="none" stroke="#000" stroke-width="2.60" stroke-linejoin="round" stroke-dasharray="7.2 3.0" stroke-dashoffset="3.80"/>
<path d="M103.50,385.60 L103.50,385.60 L103.50,385.58 L103.50,385.55 L103.51,385.50 L103.51,385.43 L103.52,385.35 L103.53,385.25 L103.54,385.13 L103.55,384.99 L103.56,384.84 L103.58,384.66 L103.59,384.46 L103.61,384.24 L103.63,384.00 L103.65,383.74 L103.67,383.46 L103.70,383.16 L103.72,382.83 L103.75,382.48 L103.78,382.11 L103.82,381.72 L103.85,381.31 L103.89,380.87 L103.92,380.41 L103.96,379.93 L104.00,379.42 L104.05,378.90 L104.09,378.35 L104.14,377.77 L104.19,377.18 L104.24,376.56 L104.30,375.92 L104.35,375.25 L104.41,374.57 L104.47,373.86 L104.53,373.12 L104.60,372.37 L104.66,371.59 L104.73,370.80 L104.80,369.97 L104.87,369.13 L104.95,368.27 L105.03,367.38 L105.11,366.47 L105.19,365.54 L105.27,364.59 L105.36,363.62 L105.44,362.63 L105.53,361.61 L105.63,360.58 L105.72,359.53 L105.82,358.45 L105.92,357.36 L106.02,356.25 L106.12,355.11 L106.23,353.96 L106.34,352.79 L106.45,351.61 L106.56,350.40 L106.68,349.17 L106.79,347.93 L106.91,346.67 L107.04,345.40 L107.16,344.11 L107.29,342.80 L107.42,341.47 L107.55,340.13 L107.68,338.78 L107.82,337.41 L107.96,336.02 L108.10,334.62 L108.24,333.21 L108.39,331.78 L108.54,330.34 L108.69,328.89 L108.84,327.43 L109.00,325.95 L109.16,324.46 L109.32,322.96 L109.48,321.45 L109.65,319.93 L109.81,318.40 L109.98,316.86 L110.16,315.32 L110.33,313.76 L110.51,312.19 L110.69,310.62 L110.87,309.04 L111.06,307.45 L111.25,305.85 L111.44,304.25 L111.63,302.65 L111.83,301.03 L112.03,299.42 L112.23,297.79 L112.43,296.17 L112.64,294.54 L112.85,292.90 L113.06,291.27 L113.27,289.63 L113.49,287.99 L113.71,286.34 L113.93,284.70 L114.15,283.05 L114.38,281.41 L114.61,279.76 L114.84,278.12 L115.07,276.47 L115.31,274.83 L115.55,273.18 L115.79,271.54 L116.04,269.90 L116.28,268.27 L116.53,266.63 L116.79,265.00 L117.04,263.37 L117.30,261.75 L117.56,260.13 L117.83,258.52 L118.09,256.91 L118.36,255.30 L118.63,253.71 L118.91,252.11 L119.18,250.53 L119.46,248.95 L119.74,247.37 L120.03,245.81 L120.32,244.25 L120.61,242.70 L120.90,241.16 L121.20,239.62 L121.50,238.10 L121.80,236.58 L122.10,235.07 L122.41,233.58 L122.72,232.09 L123.03,230.61 L123.34,229.14 L123.66,227.68 L123.98,226.23 L124.31,224.79 L124.63,223.37 L124.96,221.95 L125.29,220.55 L125.63,219.16 L125.96,217.77 L126.30,216.41 L126.65,215.05 L126.99,213.70 L127.34,212.37 L127.69,211.05 L128.04,209.74 L128.40,208.45 L128.76,207.17 L129.12,205.90 L129.49,204.64 L129.86,203.40 L130.23,202.17 L130.60,200.95 L130.98,199.75 L131.36,198.56 L131.74,197.38 L132.12,196.22 L132.51,195.07 L132.90,193.93 L133.29,192.81 L133.69,191.71 L134.09,190.61 L134.49,189.53 L134.90,188.47 L135.30,187.41 L135.71,186.37 L136.13,185.35 L136.54,184.34 L136.96,183.34 L137.39,182.36 L137.81,181.39 L138.24,180.44 L138.67,179.50 L139.10,178.57 L139.54,177.66 L139.98,176.76 L140.42,175.87 L140.87,175.00 L141.32,174.14 L141.77,173.29 L142.22,172.46 L142.68,171.64 L143.14,170.84 L143.60,170.04 L144.07,169.27 L144.54,168.50 L145.01,167.75 L145.48,167.01 L145.96,166.28 L146.44,165.57 L146.92,164.86 L147.41,164.17 L147.90,163.50 L148.39,162.83 L148.89,162.18 L149.38,161.54 L149.89,160.91 L150.39,160.30 L150.90,159.69 L151.41,159.10 L151.92,158.52 L152.44,157.95 L152.96,157.39 L153.48,156.84 L154.00,156.30 L154.53,155.78 L155.06,155.26 L155.60,154.76 L156.13,154.26 L156.67,153.78 L157.22,153.31 L157.76,152.84 L158.31,152.39 L158.86,151.95 L159.42,151.51 L159.98,151.09 L160.54,150.67 L161.10,150.27 L161.67,149.87 L162.24,149.48 L162.81,149.10 L163.39,148.73 L163.97,148.37 L164.55,148.02 L165.14,147.67 L165.73,147.34 L166.32,147.01 L166.91,146.69 L167.51,146.37 L168.11,146.07 L168.71,145.77 L169.32,145.48 L169.93,145.20 L170.54,144.92 L171.16,144.65 L171.78,144.39 L172.40,144.13 L173.03,143.88 L173.66,143.64 L174.29,143.41 L174.92,143.18 L175.56,142.95 L176.20,142.73 L176.84,142.52 L177.49,142.31 L178.14,142.11 L178.79,141.92 L179.45,141.73 L180.11,141.54 L180.77,141.36 L181.44,141.19 L182.11,141.02 L182.78,140.85 L183.45,140.69 L184.13,140.54 L184.81,140.39 L185.50,140.24 L186.18,140.10 L186.87,139.96 L187.57,139.82 L188.27,139.69 L188.97,139.57 L189.67,139.44 L190.37,139.32 L191.08,139.21 L191.80,139.10 L192.51,138.99 L193.23,138.88 L193.95,138.78 L194.68,138.68 L195.41,138.59 L196.14,138.49 L196.87,138.40 L197.61,138.32 L198.35,138.23 L199.10,138.15 L199.84,138.07 L200.59,138.00 L201.35,137.92 L202.11,137.85 L202.87,137.78 L203.63,137.72 L204.39,137.65 L205.16,137.59 L205.94,137.53 L206.71,137.47 L207.49,137.41 L208.28,137.36 L209.06,137.31 L209.85,137.26 L210.64,137.21 L211.44,137.16 L212.24,137.11 L213.04,137.07 L213.84,137.03 L214.65,136.99 L215.46,136.95 L216.28,136.91 L217.09,136.87 L217.91,136.84 L218.74,136.80 L219.57,136.77 L220.40,136.74 L221.23,136.71 L222.07,136.68 L222.91,136.65 L223.75,136.62 L224.60,136.60 L225.45,136.57 L226.30,136.55 L227.16,136.53 L228.02,136.50 L228.88,136.48 L229.75,136.46 L230.62,136.44 L231.49,136.42 L232.37,136.40 L233.25,136.38 L234.13,136.37 L235.01,136.35 L235.90,136.34 L236.80,136.32 L237.69,136.31 L238.59,136.29 L239.49,136.28 L240.40,136.27 L241.31,136.25 L242.22,136.24 L243.13,136.23 L244.05,136.22 L244.98,136.21 L245.90,136.20 L246.83,136.19 L247.76,136.18 L248.70,136.17 L249.63,136.16 L250.58,136.16 L251.52,136.15 L252.47,136.14 L253.42,136.13 L254.38,136.13 L255.33,136.12 L256.30,136.11 L257.26,136.11 L258.23,136.10 L259.20,136.10 L260.17,136.09 L261.15,136.09 L262.13,136.08 L263.12,136.08 L264.11,136.07 L265.10,136.07 L266.09,136.07 L267.09,136.06 L268.09,136.06 L269.10,136.06 L270.11,136.05 L271.12,136.05 L272.13,136.05 L273.15,136.04 L274.17,136.04 L275.20,136.04 L276.22,136.04 L277.26,136.03 L278.29,136.03 L279.33,136.03 L280.37,136.03 L281.41,136.02 L282.46,136.02 L283.51,136.02 L284.57,136.02 L285.63,136.02 L286.69,136.02 L287.75,136.01 L288.82,136.01 L289.89,136.01 L290.97,136.01 L292.05,136.01 L293.13,136.01 L294.22,136.01 L295.30,136.01 L296.40,136.01 L297.49,136.00 L298.59,136.00 L299.69,136.00 L300.80,136.00 L301.91,136.00 L303.02,136.00 L304.14,136.00 L305.25,136.00 L306.38,136.00 L307.50,136.00 L308.63,136.00 L309.77,136.00 L310.90,136.00 L312.04,136.00 L313.18,136.00 L314.33,136.00 L315.48,136.00 L316.63,135.99 L317.79,135.99 L318.95,135.99 L320.11,135.99 L321.28,135.99 L322.45,135.99 L323.62,135.99 L324.80,135.99 L325.98,135.99 L327.17,135.99 L328.35,135.99 L329.54,135.99 L330.74,135.99 L331.94,135.99 L333.14,135.99 L334.34,135.99 L335.55,135.99 L336.76,135.99 L337.98,135.99 L339.19,135.99 L340.42,135.99 L341.64,135.99 L342.87,135.99 L344.10,135.99 L345.34,135.99 L346.58,135.99 L347.82,135.99 L349.07,135.99 L350.32,135.99 L351.57,135.99 L352.82,135.99 L354.08,135.99 L355.35,135.99 L356.61,135.99 L357.88,135.99 L359.16,135.99 L360.43,135.99 L361.72,135.99 L363.00,135.99 L364.29,135.99 L365.58,135.99 L366.87,135.99 L368.17,135.99 L369.47,135.99 L370.78,135.99 L372.09,135.99 L373.40,135.99 L374.71,135.99 L376.03,135.99 L377.35,135.99 L378.68,135.99 L380.01,135.99 L381.34,135.99 L382.68,135.99 L384.02,135.99 L385.36,135.99 L386.71,135.99 L388.06,135.99 L389.41,135.99 L390.77,135.99 L392.13,135.99 L393.50,135.99 L394.86,135.99 L396.23,135.99 L397.61,135.99 L398.99,135.99 L400.37,135.99 L401.76,135.99 L403.14,135.99 L404.54,135.99 L405.93,135.99 L407.33,135.99 L408.74,135.99 L410.14,135.99 L411.55,135.99 L412.97,135.99 L414.38,135.99 L415.80,135.99 L417.23,135.99 L418.66,135.99 L420.09,135.99 L421.52,135.99 L422.96,135.99 L424.40,135.99 L425.85,135.99 L427.30,135.99 L428.75,135.99 L430.21,135.99 L431.67,135.99 L433.13,135.99 L434.60,135.99 L436.07,135.99 L437.54,135.99 L439.02,135.99 L440.50,135.99 L441.98,135.99 L443.47,135.99 L444.96,135.99 L446.46,135.99 L447.96,135.99 L449.46,135.99 L450.97,135.99 L452.48,135.99 L453.99,135.99 L455.50,135.99 L457.03,135.99 L458.55,135.99 L460.08,135.99 L461.61,135.99 L463.14,135.99 L464.68,135.99 L466.22,135.99 L467.77,135.99 L469.32,135.99 L470.87,135.99 L472.42,135.99 L473.98,135.99 L475.55,135.99 L477.11,135.99 L478.68,135.99 L480.26,135.99 L481.84,135.99 L483.42,135.99 L485.00,135.99 L486.59,135.99 L488.18,135.99 L489.78,135.99 L491.38,135.99 L492.98,135.99 L494.59,135.99 L496.20,135.99 L497.81,135.99 L499.43,135.99 L501.05,135.99 L502.67,135.99 L504.30,135.99 L505.93,135.99 L507.57,135.99 L509.21,135.99 L510.85,135.99 L512.49,135.99 L514.14,135.99 L515.80,135.99 L517.46,135.99 L519.12,135.99 L520.78,135.99 L522.45,135.99 L524.12,135.99 L525.79,135.99 L527.47,135.99 L529.16,135.99 L530.84,135.99 L532.53,135.99 L534.23,135.99 L535.92,135.99 L537.62,135.99 L539.33,135.99 L541.03,135.99 L542.75,135.99 L544.46,135.99 L546.18,135.99 L547.90,135.99 L549.63,135.99 L551.36,135.99 L553.09,135.99 L554.83,135.99 L556.57,135.99 L558.31,135.99 L560.06,135.99 L561.81,135.99 L563.57,135.99 L565.33,135.99 L567.09,135.99 L568.86,135.99 L570.63,135.99 L572.40,135.99 L574.18,135.99 L575.96,135.99 L577.74,135.99 L579.53,135.99 L581.33,135.99 L583.12,135.99 L584.92,135.99 L586.72,135.99 L588.53,135.99 L590.34,135.99 L592.15,135.99 L593.97,135.99 L595.79,135.99 L597.62,135.99 L599.45,135.99 L601.28,135.99 L603.12,135.99 L604.96,135.99 L606.80,135.99" fill="none" stroke="#000" stroke-width="2.60" stroke-linejoin="round" stroke-dasharray="7.2 3.0" stroke-dashoffset="3.50"/>
<path d="M103.50,385.60 L103.50,385.58 L103.50,385.50 L103.50,385.36 L103.51,385.15 L103.51,384.86 L103.52,384.50 L103.53,384.06 L103.54,383.54 L103.55,382.93 L103.56,382.24 L103.58,381.47 L103.59,380.61 L103.61,379.67 L103.63,378.64 L103.65,377.53 L103.67,376.34 L103.70,375.06 L103.72,373.70 L103.75,372.26 L103.78,370.75 L103.82,369.15 L103.85,367.49 L103.89,365.75 L103.92,363.93 L103.96,362.05 L104.00,360.11 L104.05,358.10 L104.09,356.03 L104.14,353.90 L104.19,351.71 L104.24,349.47 L104.30,347.19 L104.35,344.85 L104.41,342.47 L104.47,340.05 L104.53,337.59 L104.60,335.10 L104.66,332.57 L104.73,330.02 L104.80,327.43 L104.87,324.83 L104.95,322.20 L105.03,319.55 L105.11,316.89 L105.19,314.22 L105.27,311.53 L105.36,308.84 L105.44,306.13 L105.53,303.43 L105.63,300.72 L105.72,298.02 L105.82,295.32 L105.92,292.62 L106.02,289.93 L106.12,287.25 L106.23,284.57 L106.34,281.91 L106.45,279.26 L106.56,276.63 L106.68,274.01 L106.79,271.41 L106.91,268.83 L107.04,266.26 L107.16,263.72 L107.29,261.20 L107.42,258.70 L107.55,256.22 L107.68,253.77 L107.82,251.34 L107.96,248.94 L108.10,246.56 L108.24,244.21 L108.39,241.89 L108.54,239.59 L108.69,237.32 L108.84,235.08 L109.00,232.87 L109.16,230.68 L109.32,228.52 L109.48,226.39 L109.65,224.29 L109.81,222.22 L109.98,220.17 L110.16,218.15 L110.33,216.17 L110.51,214.21 L110.69,212.28 L110.87,210.37 L111.06,208.50 L111.25,206.65 L111.44,204.83 L111.63,203.04 L111.83,201.27 L112.03,199.53 L112.23,197.82 L112.43,196.14 L112.64,194.48 L112.85,192.85 L113.06,191.24 L113.27,189.66 L113.49,188.10 L113.71,186.57 L113.93,185.06 L114.15,183.58 L114.38,182.12 L114.61,180.68 L114.84,179.27 L115.07,177.88 L115.31,176.51 L115.55,175.17 L115.79,173.84 L116.04,172.54 L116.28,171.26 L116.53,170.00 L116.79,168.76 L117.04,167.54 L117.30,166.35 L117.56,165.17 L117.83,164.01 L118.09,162.87 L118.36,161.74 L118.63,160.64 L118.91,159.55 L119.18,158.49 L119.46,157.44 L119.74,156.40 L120.03,155.39 L120.32,154.39 L120.61,153.40 L120.90,152.44 L121.20,151.48 L121.50,150.55 L121.80,149.63 L122.10,148.72 L122.41,147.83 L122.72,146.95 L123.03,146.09 L123.34,145.24 L123.66,144.40 L123.98,143.58 L124.31,142.77 L124.63,141.97 L124.96,141.19 L125.29,140.42 L125.63,139.66 L125.96,138.91 L126.30,138.18 L126.65,137.46 L126.99,136.74 L127.34,136.04 L127.69,135.35 L128.04,134.67 L128.40,134.00 L128.76,133.35 L129.12,132.70 L129.49,132.06 L129.86,131.43 L130.23,130.81 L130.60,130.20 L130.98,129.60 L131.36,129.01 L131.74,128.43 L132.12,127.86 L132.51,127.29 L132.90,126.74 L133.29,126.19 L133.69,125.65 L134.09,125.12 L134.49,124.60 L134.90,124.08 L135.30,123.57 L135.71,123.07 L136.13,122.58 L136.54,122.10 L136.96,121.62 L137.39,121.14 L137.81,120.68 L138.24,120.22 L138.67,119.77 L139.10,119.33 L139.54,118.89 L139.98,118.45 L140.42,118.03 L140.87,117.61 L141.32,117.19 L141.77,116.79 L142.22,116.38 L142.68,115.99 L143.14,115.60 L143.60,115.21 L144.07,114.83 L144.54,114.45 L145.01,114.08 L145.48,113.72 L145.96,113.36 L146.44,113.00 L146.92,112.65 L147.41,112.31 L147.90,111.97 L148.39,111.63 L148.89,111.30 L149.38,110.97 L149.89,110.65 L150.39,110.33 L150.90,110.02 L151.41,109.71 L151.92,109.40 L152.44,109.10 L152.96,108.80 L153.48,108.51 L154.00,108.22 L154.53,107.93 L155.06,107.65 L155.60,107.37 L156.13,107.09 L156.67,106.82 L157.22,106.55 L157.76,106.29 L158.31,106.03 L158.86,105.77 L159.42,105.51 L159.98,105.26 L160.54,105.01 L161.10,104.77 L161.67,104.52 L162.24,104.28 L162.81,104.05 L163.39,103.81 L163.97,103.58 L164.55,103.36 L165.14,103.13 L165.73,102.91 L166.32,102.69 L166.91,102.47 L167.51,102.26 L168.11,102.04 L168.71,101.84 L169.32,101.63 L169.93,101.42 L170.54,101.22 L171.16,101.02 L171.78,100.83 L172.40,100.63 L173.03,100.44 L173.66,100.25 L174.29,100.06 L174.92,99.87 L175.56,99.69 L176.20,99.51 L176.84,99.33 L177.49,99.15 L178.14,98.98 L178.79,98.80 L179.45,98.63 L180.11,98.46 L180.77,98.29 L181.44,98.13 L182.11,97.96 L182.78,97.80 L183.45,97.64 L184.13,97.48 L184.81,97.33 L185.50,97.17 L186.18,97.02 L186.87,96.87 L187.57,96.72 L188.27,96.57 L188.97,96.42 L189.67,96.28 L190.37,96.14 L191.08,95.99 L191.80,95.85 L192.51,95.71 L193.23,95.58 L193.95,95.44 L194.68,95.31 L195.41,95.17 L196.14,95.04 L196.87,94.91 L197.61,94.78 L198.35,94.66 L199.10,94.53 L199.84,94.40 L200.59,94.28 L201.35,94.16 L202.11,94.04 L202.87,93.92 L203.63,93.80 L204.39,93.68 L205.16,93.57 L205.94,93.45 L206.71,93.34 L207.49,93.22 L208.28,93.11 L209.06,93.00 L209.85,92.89 L210.64,92.79 L211.44,92.68 L212.24,92.57 L213.04,92.47 L213.84,92.36 L214.65,92.26 L215.46,92.16 L216.28,92.06 L217.09,91.96 L217.91,91.86 L218.74,91.76 L219.57,91.66 L220.40,91.57 L221.23,91.47 L222.07,91.38 L222.91,91.29 L223.75,91.19 L224.60,91.10 L225.45,91.01 L226.30,90.92 L227.16,90.83 L228.02,90.74 L228.88,90.66 L229.75,90.57 L230.62,90.48 L231.49,90.40 L232.37,90.32 L233.25,90.23 L234.13,90.15 L235.01,90.07 L235.90,89.99 L236.80,89.91 L237.69,89.83 L238.59,89.75 L239.49,89.67 L240.40,89.59 L241.31,89.52 L242.22,89.44 L243.13,89.37 L244.05,89.29 L244.98,89.22 L245.90,89.14 L246.83,89.07 L247.76,89.00 L248.70,88.93 L249.63,88.86 L250.58,88.79 L251.52,88.72 L252.47,88.65 L253.42,88.58 L254.38,88.51 L255.33,88.45 L256.30,88.38 L257.26,88.31 L258.23,88.25 L259.20,88.18 L260.17,88.12 L261.15,88.06 L262.13,87.99 L263.12,87.93 L264.11,87.87 L265.10,87.81 L266.09,87.75 L267.09,87.69 L268.09,87.63 L269.10,87.57 L270.11,87.51 L271.12,87.45 L272.13,87.39 L273.15,87.33 L274.17,87.28 L275.20,87.22 L276.22,87.16 L277.26,87.11 L278.29,87.05 L279.33,87.00 L280.37,86.94 L281.41,86.89 L282.46,86.84 L283.51,86.78 L284.57,86.73 L285.63,86.68 L286.69,86.63 L287.75,86.58 L288.82,86.53 L289.89,86.48 L290.97,86.43 L292.05,86.38 L293.13,86.33 L294.22,86.28 L295.30,86.23 L296.40,86.18 L297.49,86.13 L298.59,86.09 L299.69,86.04 L300.80,85.99 L301.91,85.95 L303.02,85.90 L304.14,85.86 L305.25,85.81 L306.38,85.77 L307.50,85.72 L308.63,85.68 L309.77,85.63 L310.90,85.59 L312.04,85.55 L313.18,85.51 L314.33,85.46 L315.48,85.42 L316.63,85.38 L317.79,85.34 L318.95,85.30 L320.11,85.26 L321.28,85.22 L322.45,85.18 L323.62,85.14 L324.80,85.10 L325.98,85.06 L327.17,85.02 L328.35,84.98 L329.54,84.94 L330.74,84.90 L331.94,84.86 L333.14,84.83 L334.34,84.79 L335.55,84.75 L336.76,84.72 L337.98,84.68 L339.19,84.64 L340.42,84.61 L341.64,84.57 L342.87,84.54 L344.10,84.50 L345.34,84.47 L346.58,84.43 L347.82,84.40 L349.07,84.36 L350.32,84.33 L351.57,84.29 L352.82,84.26 L354.08,84.23 L355.35,84.19 L356.61,84.16 L357.88,84.13 L359.16,84.10 L360.43,84.06 L361.72,84.03 L363.00,84.00 L364.29,83.97 L365.58,83.94 L366.87,83.91 L368.17,83.88 L369.47,83.85 L370.78,83.82 L372.09,83.79 L373.40,83.76 L374.71,83.73 L376.03,83.70 L377.35,83.67 L378.68,83.64 L380.01,83.61 L381.34,83.58 L382.68,83.55 L384.02,83.52 L385.36,83.50 L386.71,83.47 L388.06,83.44 L389.41,83.41 L390.77,83.39 L392.13,83.36 L393.50,83.33 L394.86,83.30 L396.23,83.28 L397.61,83.25 L398.99,83.22 L400.37,83.20 L401.76,83.17 L403.14,83.15 L404.54,83.12 L405.93,83.10 L407.33,83.07 L408.74,83.05 L410.14,83.02 L411.55,83.00 L412.97,82.97 L414.38,82.95 L415.80,82.92 L417.23,82.90 L418.66,82.87 L420.09,82.85 L421.52,82.83 L422.96,82.80 L424.40,82.78 L425.85,82.76 L427.30,82.73 L428.75,82.71 L430.21,82.69 L431.67,82.66 L433.13,82.64 L434.60,82.62 L436.07,82.60 L437.54,82.57 L439.02,82.55 L440.50,82.53 L441.98,82.51 L443.47,82.49 L444.96,82.47 L446.46,82.45 L447.96,82.42 L449.46,82.40 L450.97,82.38 L452.48,82.36 L453.99,82.34 L455.50,82.32 L457.03,82.30 L458.55,82.28 L460.08,82.26 L461.61,82.24 L463.14,82.22 L464.68,82.20 L466.22,82.18 L467.77,82.16 L469.32,82.14 L470.87,82.12 L472.42,82.10 L473.98,82.08 L475.55,82.06 L477.11,82.05 L478.68,82.03 L480.26,82.01 L481.84,81.99 L483.42,81.97 L485.00,81.95 L486.59,81.93 L488.18,81.92 L489.78,81.90 L491.38,81.88 L492.98,81.86 L494.59,81.85 L496.20,81.83 L497.81,81.81 L499.43,81.79 L501.05,81.78 L502.67,81.76 L504.30,81.74 L505.93,81.72 L507.57,81.71 L509.21,81.69 L510.85,81.67 L512.49,81.66 L514.14,81.64 L515.80,81.62 L517.46,81.61 L519.12,81.59 L520.78,81.58 L522.45,81.56 L524.12,81.54 L525.79,81.53 L527.47,81.51 L529.16,81.50 L530.84,81.48 L532.53,81.47 L534.23,81.45 L535.92,81.44 L537.62,81.42 L539.33,81.41 L541.03,81.39 L542.75,81.38 L544.46,81.36 L546.18,81.35 L547.90,81.33 L549.63,81.32 L551.36,81.30 L553.09,81.29 L554.83,81.27 L556.57,81.26 L558.31,81.24 L560.06,81.23 L561.81,81.22 L563.57,81.20 L565.33,81.19 L567.09,81.17 L568.86,81.16 L570.63,81.15 L572.40,81.13 L574.18,81.12 L575.96,81.11 L577.74,81.09 L579.53,81.08 L581.33,81.07 L583.12,81.05 L584.92,81.04 L586.72,81.03 L588.53,81.01 L590.34,81.00 L592.15,80.99 L593.97,80.98 L595.79,80.96 L597.62,80.95 L599.45,80.94 L601.28,80.92 L603.12,80.91 L604.96,80.90 L606.80,80.89" fill="none" stroke="#000" stroke-width="2.60" stroke-linejoin="round" stroke-dasharray="19.6 7.6 3.0 7.6" stroke-dashoffset="8.50"/>
<path d="M103.50,385.60 L103.50,385.59 L103.50,385.56 L103.50,385.51 L103.51,385.42 L103.51,385.31 L103.52,385.17 L103.53,385.00 L103.54,384.80 L103.55,384.56 L103.56,384.29 L103.58,383.99 L103.59,383.65 L103.61,383.28 L103.63,382.87 L103.65,382.43 L103.67,381.95 L103.70,381.44 L103.72,380.89 L103.75,380.31 L103.78,379.69 L103.82,379.03 L103.85,378.35 L103.89,377.62 L103.92,376.86 L103.96,376.07 L104.00,375.25 L104.05,374.39 L104.09,373.50 L104.14,372.57 L104.19,371.62 L104.24,370.63 L104.30,369.61 L104.35,368.56 L104.41,367.48 L104.47,366.38 L104.53,365.24 L104.60,364.08 L104.66,362.89 L104.73,361.67 L104.80,360.43 L104.87,359.16 L104.95,357.87 L105.03,356.55 L105.11,355.22 L105.19,353.86 L105.27,352.48 L105.36,351.08 L105.44,349.67 L105.53,348.23 L105.63,346.78 L105.72,345.31 L105.82,343.82 L105.92,342.32 L106.02,340.81 L106.12,339.28 L106.23,337.74 L106.34,336.19 L106.45,334.63 L106.56,333.06 L106.68,331.48 L106.79,329.89 L106.91,328.29 L107.04,326.69 L107.16,325.08 L107.29,323.47 L107.42,321.85 L107.55,320.23 L107.68,318.60 L107.82,316.97 L107.96,315.35 L108.10,313.71 L108.24,312.08 L108.39,310.45 L108.54,308.82 L108.69,307.19 L108.84,305.56 L109.00,303.94 L109.16,302.32 L109.32,300.70 L109.48,299.08 L109.65,297.47 L109.81,295.87 L109.98,294.27 L110.16,292.67 L110.33,291.08 L110.51,289.50 L110.69,287.93 L110.87,286.36 L111.06,284.80 L111.25,283.25 L111.44,281.70 L111.63,280.17 L111.83,278.64 L112.03,277.12 L112.23,275.61 L112.43,274.11 L112.64,272.62 L112.85,271.14 L113.06,269.67 L113.27,268.22 L113.49,266.77 L113.71,265.33 L113.93,263.90 L114.15,262.49 L114.38,261.08 L114.61,259.69 L114.84,258.31 L115.07,256.93 L115.31,255.58 L115.55,254.23 L115.79,252.89 L116.04,251.57 L116.28,250.25 L116.53,248.95 L116.79,247.66 L117.04,246.39 L117.30,245.12 L117.56,243.87 L117.83,242.62 L118.09,241.39 L118.36,240.18 L118.63,238.97 L118.91,237.77 L119.18,236.59 L119.46,235.42 L119.74,234.26 L120.03,233.11 L120.32,231.98 L120.61,230.85 L120.90,229.74 L121.20,228.64 L121.50,227.55 L121.80,226.47 L122.10,225.41 L122.41,224.35 L122.72,223.31 L123.03,222.27 L123.34,221.25 L123.66,220.24 L123.98,219.24 L124.31,218.25 L124.63,217.27 L124.96,216.30 L125.29,215.34 L125.63,214.40 L125.96,213.46 L126.30,212.54 L126.65,211.62 L126.99,210.71 L127.34,209.82 L127.69,208.93 L128.04,208.06 L128.40,207.19 L128.76,206.33 L129.12,205.49 L129.49,204.65 L129.86,203.82 L130.23,203.00 L130.60,202.20 L130.98,201.39 L131.36,200.60 L131.74,199.82 L132.12,199.05 L132.51,198.28 L132.90,197.53 L133.29,196.78 L133.69,196.04 L134.09,195.31 L134.49,194.59 L134.90,193.88 L135.30,193.17 L135.71,192.47 L136.13,191.78 L136.54,191.10 L136.96,190.43 L137.39,189.76 L137.81,189.10 L138.24,188.45 L138.67,187.80 L139.10,187.17 L139.54,186.54 L139.98,185.91 L140.42,185.30 L140.87,184.69 L141.32,184.09 L141.77,183.49 L142.22,182.91 L142.68,182.32 L143.14,181.75 L143.60,181.18 L144.07,180.62 L144.54,180.06 L145.01,179.51 L145.48,178.97 L145.96,178.43 L146.44,177.90 L146.92,177.38 L147.41,176.86 L147.90,176.34 L148.39,175.83 L148.89,175.33 L149.38,174.84 L149.89,174.34 L150.39,173.86 L150.90,173.38 L151.41,172.90 L151.92,172.43 L152.44,171.97 L152.96,171.51 L153.48,171.05 L154.00,170.60 L154.53,170.16 L155.06,169.72 L155.60,169.29 L156.13,168.86 L156.67,168.43 L157.22,168.01 L157.76,167.59 L158.31,167.18 L158.86,166.77 L159.42,166.37 L159.98,165.97 L160.54,165.58 L161.10,165.19 L161.67,164.80 L162.24,164.42 L162.81,164.04 L163.39,163.67 L163.97,163.30 L164.55,162.93 L165.14,162.57 L165.73,162.21 L166.32,161.86 L166.91,161.51 L167.51,161.16 L168.11,160.82 L168.71,160.48 L169.32,160.14 L169.93,159.81 L170.54,159.48 L171.16,159.15 L171.78,158.83 L172.40,158.51 L173.03,158.19 L173.66,157.88 L174.29,157.57 L174.92,157.27 L175.56,156.96 L176.20,156.66 L176.84,156.37 L177.49,156.07 L178.14,155.78 L178.79,155.49 L179.45,155.21 L180.11,154.93 L180.77,154.65 L181.44,154.37 L182.11,154.10 L182.78,153.83 L183.45,153.56 L184.13,153.29 L184.81,153.03 L185.50,152.77 L186.18,152.51 L186.87,152.26 L187.57,152.00 L188.27,151.75 L188.97,151.50 L189.67,151.26 L190.37,151.02 L191.08,150.78 L191.80,150.54 L192.51,150.30 L193.23,150.07 L193.95,149.84 L194.68,149.61 L195.41,149.38 L196.14,149.15 L196.87,148.93 L197.61,148.71 L198.35,148.49 L199.10,148.28 L199.84,148.06 L200.59,147.85 L201.35,147.64 L202.11,147.43 L202.87,147.23 L203.63,147.02 L204.39,146.82 L205.16,146.62 L205.94,146.42 L206.71,146.22 L207.49,146.03 L208.28,145.83 L209.06,145.64 L209.85,145.45 L210.64,145.26 L211.44,145.08 L212.24,144.89 L213.04,144.71 L213.84,144.53 L214.65,144.35 L215.46,144.17 L216.28,144.00 L217.09,143.82 L217.91,143.65 L218.74,143.48 L219.57,143.31 L220.40,143.14 L221.23,142.97 L222.07,142.81 L222.91,142.64 L223.75,142.48 L224.60,142.32 L225.45,142.16 L226.30,142.00 L227.16,141.84 L228.02,141.69 L228.88,141.53 L229.75,141.38 L230.62,141.23 L231.49,141.08 L232.37,140.93 L233.25,140.78 L234.13,140.64 L235.01,140.49 L235.90,140.35 L236.80,140.20 L237.69,140.06 L238.59,139.92 L239.49,139.78 L240.40,139.65 L241.31,139.51 L242.22,139.37 L243.13,139.24 L244.05,139.11 L244.98,138.97 L245.90,138.84 L246.83,138.71 L247.76,138.58 L248.70,138.46 L249.63,138.33 L250.58,138.20 L251.52,138.08 L252.47,137.96 L253.42,137.83 L254.38,137.71 L255.33,137.59 L256.30,137.47 L257.26,137.35 L258.23,137.24 L259.20,137.12 L260.17,137.00 L261.15,136.89 L262.13,136.78 L263.12,136.66 L264.11,136.55 L265.10,136.44 L266.09,136.33 L267.09,136.22 L268.09,136.11 L269.10,136.00 L270.11,135.90 L271.12,135.79 L272.13,135.69 L273.15,135.58 L274.17,135.48 L275.20,135.38 L276.22,135.28 L277.26,135.17 L278.29,135.07 L279.33,134.98 L280.37,134.88 L281.41,134.78 L282.46,134.68 L283.51,134.59 L284.57,134.49 L285.63,134.39 L286.69,134.30 L287.75,134.21 L288.82,134.11 L289.89,134.02 L290.97,133.93 L292.05,133.84 L293.13,133.75 L294.22,133.66 L295.30,133.57 L296.40,133.49 L297.49,133.40 L298.59,133.31 L299.69,133.23 L300.80,133.14 L301.91,133.06 L303.02,132.97 L304.14,132.89 L305.25,132.81 L306.38,132.72 L307.50,132.64 L308.63,132.56 L309.77,132.48 L310.90,132.40 L312.04,132.32 L313.18,132.24 L314.33,132.17 L315.48,132.09 L316.63,132.01 L317.79,131.93 L318.95,131.86 L320.11,131.78 L321.28,131.71 L322.45,131.63 L323.62,131.56 L324.80,131.49 L325.98,131.42 L327.17,131.34 L328.35,131.27 L329.54,131.20 L330.74,131.13 L331.94,131.06 L333.14,130.99 L334.34,130.92 L335.55,130.85 L336.76,130.79 L337.98,130.72 L339.19,130.65 L340.42,130.58 L341.64,130.52 L342.87,130.45 L344.10,130.39 L345.34,130.32 L346.58,130.26 L347.82,130.19 L349.07,130.13 L350.32,130.07 L351.57,130.00 L352.82,129.94 L354.08,129.88 L355.35,129.82 L356.61,129.76 L357.88,129.70 L359.16,129.64 L360.43,129.58 L361.72,129.52 L363.00,129.46 L364.29,129.40 L365.58,129.34 L366.87,129.29 L368.17,129.23 L369.47,129.17 L370.78,129.11 L372.09,129.06 L373.40,129.00 L374.71,128.95 L376.03,128.89 L377.35,128.84 L378.68,128.78 L380.01,128.73 L381.34,128.68 L382.68,128.62 L384.02,128.57 L385.36,128.52 L386.71,128.46 L388.06,128.41 L389.41,128.36 L390.77,128.31 L392.13,128.26 L393.50,128.21 L394.86,128.16 L396.23,128.11 L397.61,128.06 L398.99,128.01 L400.37,127.96 L401.76,127.91 L403.14,127.86 L404.54,127.81 L405.93,127.77 L407.33,127.72 L408.74,127.67 L410.14,127.63 L411.55,127.58 L412.97,127.53 L414.38,127.49 L415.80,127.44 L417.23,127.40 L418.66,127.35 L420.09,127.31 L421.52,127.26 L422.96,127.22 L424.40,127.17 L425.85,127.13 L427.30,127.09 L428.75,127.04 L430.21,127.00 L431.67,126.96 L433.13,126.91 L434.60,126.87 L436.07,126.83 L437.54,126.79 L439.02,126.75 L440.50,126.71 L441.98,126.67 L443.47,126.62 L444.96,126.58 L446.46,126.54 L447.96,126.50 L449.46,126.46 L450.97,126.43 L452.48,126.39 L453.99,126.35 L455.50,126.31 L457.03,126.27 L458.55,126.23 L460.08,126.19 L461.61,126.16 L463.14,126.12 L464.68,126.08 L466.22,126.04 L467.77,126.01 L469.32,125.97 L470.87,125.93 L472.42,125.90 L473.98,125.86 L475.55,125.83 L477.11,125.79 L478.68,125.75 L480.26,125.72 L481.84,125.68 L483.42,125.65 L485.00,125.61 L486.59,125.58 L488.18,125.55 L489.78,125.51 L491.38,125.48 L492.98,125.44 L494.59,125.41 L496.20,125.38 L497.81,125.34 L499.43,125.31 L501.05,125.28 L502.67,125.25 L504.30,125.21 L505.93,125.18 L507.57,125.15 L509.21,125.12 L510.85,125.09 L512.49,125.06 L514.14,125.02 L515.80,124.99 L517.46,124.96 L519.12,124.93 L520.78,124.90 L522.45,124.87 L524.12,124.84 L525.79,124.81 L527.47,124.78 L529.16,124.75 L530.84,124.72 L532.53,124.69 L534.23,124.66 L535.92,124.63 L537.62,124.60 L539.33,124.58 L541.03,124.55 L542.75,124.52 L544.46,124.49 L546.18,124.46 L547.90,124.43 L549.63,124.41 L551.36,124.38 L553.09,124.35 L554.83,124.32 L556.57,124.30 L558.31,124.27 L560.06,124.24 L561.81,124.22 L563.57,124.19 L565.33,124.16 L567.09,124.14 L568.86,124.11 L570.63,124.08 L572.40,124.06 L574.18,124.03 L575.96,124.01 L577.74,123.98 L579.53,123.96 L581.33,123.93 L583.12,123.91 L584.92,123.88 L586.72,123.86 L588.53,123.83 L590.34,123.81 L592.15,123.78 L593.97,123.76 L595.79,123.73 L597.62,123.71 L599.45,123.68 L601.28,123.66 L603.12,123.64 L604.96,123.61 L606.80,123.59" fill="none" stroke="#000" stroke-width="2.60" stroke-linejoin="round" stroke-dasharray="19.6 7.6 3.0 7.6" stroke-dashoffset="7.80"/>
<text x="117.1" y="46" class="big">(a)</text>
<circle cx="459.70" cy="239.00" r="6.20" fill="#ff00ff"/>
<path d="M459.70,264.50 L465.90,275.50 L453.50,275.50 Z" fill="#1b9f8d"/>
<line x1="442.6" y1="300" x2="476.4" y2="300" stroke="#000" stroke-width="2.8"/>
<line x1="442.6" y1="330.7" x2="476.4" y2="330.7" stroke="#000" stroke-width="2.8" stroke-dasharray="7.1 3.15"/>
<line x1="442.6" y1="361.8" x2="476.4" y2="361.8" stroke="#000" stroke-width="2.8" stroke-dasharray="19.6 7.6 3.1 20"/>
<text x="485" y="246.3" class="t">SMX</text>
<text x="485" y="277.3" class="t">SPY</text>
<text x="485" y="307.8" class="t">Elovich</text>
<text x="485" y="338.3" class="t">PFO</text>
<text x="485" y="369.5" class="t">PSO</text>
<text x="362.3" y="442" text-anchor="middle" class="t" style="font-size:22px">Time (h)</text>
<text transform="translate(21.3,198.5) rotate(-90)" text-anchor="middle" class="t" style="font-size:22.6px">Sorption Capacity, Qe (mg/kg)</text>
<rect x="101.50" y="458.90" width="504.60" height="371.10" fill="none" stroke="#000" stroke-width="3.3"/>
<line x1="94.50" y1="830.00" x2="101.50" y2="830.00" stroke="#000" stroke-width="2.4"/>
<text x="81.50" y="837.30" text-anchor="end" class="t">0</text>
<line x1="96.30" y1="792.89" x2="101.50" y2="792.89" stroke="#000" stroke-width="2.4"/>
<line x1="94.50" y1="755.78" x2="101.50" y2="755.78" stroke="#000" stroke-width="2.4"/>
<text x="81.50" y="763.08" text-anchor="end" class="t">500</text>
<line x1="96.30" y1="718.67" x2="101.50" y2="718.67" stroke="#000" stroke-width="2.4"/>
<line x1="94.50" y1="681.56" x2="101.50" y2="681.56" stroke="#000" stroke-width="2.4"/>
<text x="81.50" y="688.86" text-anchor="end" class="t">1000</text>
<line x1="96.30" y1="644.45" x2="101.50" y2="644.45" stroke="#000" stroke-width="2.4"/>
<line x1="94.50" y1="607.34" x2="101.50" y2="607.34" stroke="#000" stroke-width="2.4"/>
<text x="81.50" y="614.64" text-anchor="end" class="t">1500</text>
<line x1="96.30" y1="570.23" x2="101.50" y2="570.23" stroke="#000" stroke-width="2.4"/>
<line x1="94.50" y1="533.12" x2="101.50" y2="533.12" stroke="#000" stroke-width="2.4"/>
<text x="81.50" y="540.42" text-anchor="end" class="t">2000</text>
<line x1="96.30" y1="496.01" x2="101.50" y2="496.01" stroke="#000" stroke-width="2.4"/>
<line x1="94.50" y1="458.90" x2="101.50" y2="458.90" stroke="#000" stroke-width="2.4"/>
<text x="81.50" y="466.20" text-anchor="end" class="t">2500</text>
<line x1="101.50" y1="830.00" x2="101.50" y2="836.60" stroke="#000" stroke-width="2.4"/>
<text x="101.50" y="863.60" text-anchor="middle" class="t">0</text>
<line x1="151.96" y1="830.00" x2="151.96" y2="835.00" stroke="#000" stroke-width="2.4"/>
<line x1="202.42" y1="830.00" x2="202.42" y2="836.60" stroke="#000" stroke-width="2.4"/>
<text x="202.42" y="863.60" text-anchor="middle" class="t">2</text>
<line x1="252.88" y1="830.00" x2="252.88" y2="835.00" stroke="#000" stroke-width="2.4"/>
<line x1="303.34" y1="830.00" x2="303.34" y2="836.60" stroke="#000" stroke-width="2.4"/>
<text x="303.34" y="863.60" text-anchor="middle" class="t">4</text>
<line x1="353.80" y1="830.00" x2="353.80" y2="835.00" stroke="#000" stroke-width="2.4"/>
<line x1="404.26" y1="830.00" x2="404.26" y2="836.60" stroke="#000" stroke-width="2.4"/>
<text x="404.26" y="863.60" text-anchor="middle" class="t">6</text>
<line x1="454.72" y1="830.00" x2="454.72" y2="835.00" stroke="#000" stroke-width="2.4"/>
<line x1="505.18" y1="830.00" x2="505.18" y2="836.60" stroke="#000" stroke-width="2.4"/>
<text x="505.18" y="863.60" text-anchor="middle" class="t">8</text>
<line x1="555.64" y1="830.00" x2="555.64" y2="835.00" stroke="#000" stroke-width="2.4"/>
<line x1="606.10" y1="830.00" x2="606.10" y2="836.60" stroke="#000" stroke-width="2.4"/>
<text x="606.10" y="863.60" text-anchor="middle" class="t">10</text>
<line x1="523.85" y1="523.50" x2="523.85" y2="549.20" stroke="#000" stroke-width="2.0"/>
<line x1="521.05" y1="523.50" x2="526.65" y2="523.50" stroke="#000" stroke-width="2.5"/>
<line x1="521.05" y1="549.20" x2="526.65" y2="549.20" stroke="#000" stroke-width="2.5"/>
<line x1="561.19" y1="491.10" x2="561.19" y2="522.80" stroke="#000" stroke-width="2.0"/>
<line x1="558.39" y1="491.10" x2="563.99" y2="491.10" stroke="#000" stroke-width="2.5"/>
<line x1="558.39" y1="522.80" x2="563.99" y2="522.80" stroke="#000" stroke-width="2.5"/>
<line x1="510.73" y1="639.70" x2="510.73" y2="664.30" stroke="#000" stroke-width="2.0"/>
<line x1="507.93" y1="639.70" x2="513.53" y2="639.70" stroke="#000" stroke-width="2.5"/>
<line x1="507.93" y1="664.30" x2="513.53" y2="664.30" stroke="#000" stroke-width="2.5"/>
<line x1="592.98" y1="620.60" x2="592.98" y2="647.80" stroke="#000" stroke-width="2.0"/>
<line x1="590.18" y1="620.60" x2="595.78" y2="620.60" stroke="#000" stroke-width="2.5"/>
<line x1="590.18" y1="647.80" x2="595.78" y2="647.80" stroke="#000" stroke-width="2.5"/>
<circle cx="113.11" cy="711.69" r="6.60" fill="#ff00ff"/>
<circle cx="186.78" cy="694.33" r="6.60" fill="#ff00ff"/>
<circle cx="222.10" cy="679.04" r="6.60" fill="#ff00ff"/>
<circle cx="311.92" cy="672.65" r="6.60" fill="#ff00ff"/>
<circle cx="398.20" cy="657.81" r="6.60" fill="#ff00ff"/>
<circle cx="510.73" cy="652.02" r="6.60" fill="#ff00ff"/>
<circle cx="592.98" cy="634.50" r="6.60" fill="#ff00ff"/>
<path d="M109.07,714.58 L117.17,730.18 L100.97,730.18 Z" fill="#1b9f8d"/>
<path d="M143.89,689.35 L151.99,704.95 L135.79,704.95 Z" fill="#1b9f8d"/>
<path d="M162.05,667.53 L170.15,683.13 L153.95,683.13 Z" fill="#1b9f8d"/>
<path d="M222.10,646.00 L230.20,661.60 L214.00,661.60 Z" fill="#1b9f8d"/>
<path d="M307.38,620.02 L315.48,635.62 L299.28,635.62 Z" fill="#1b9f8d"/>
<path d="M414.86,574.75 L422.96,590.35 L406.76,590.35 Z" fill="#1b9f8d"/>
<path d="M486.51,539.57 L494.61,555.17 L478.41,555.17 Z" fill="#1b9f8d"/>
<path d="M523.85,529.03 L531.95,544.63 L515.75,544.63 Z" fill="#1b9f8d"/>
<path d="M561.19,500.23 L569.29,515.83 L553.09,515.83 Z" fill="#1b9f8d"/>
<path d="M101.50,830.00 L101.50,830.00 L101.50,829.99 L101.50,829.98 L101.51,829.96 L101.51,829.94 L101.52,829.91 L101.53,829.87 L101.54,829.82 L101.55,829.77 L101.56,829.71 L101.58,829.64 L101.59,829.57 L101.61,829.49 L101.63,829.40 L101.65,829.30 L101.67,829.19 L101.70,829.08 L101.73,828.95 L101.75,828.82 L101.78,828.68 L101.82,828.53 L101.85,828.37 L101.89,828.21 L101.92,828.03 L101.96,827.85 L102.01,827.66 L102.05,827.45 L102.10,827.24 L102.14,827.03 L102.19,826.80 L102.24,826.56 L102.30,826.31 L102.35,826.06 L102.41,825.79 L102.47,825.52 L102.53,825.24 L102.60,824.95 L102.67,824.65 L102.73,824.34 L102.80,824.02 L102.88,823.69 L102.95,823.36 L103.03,823.01 L103.11,822.66 L103.19,822.29 L103.27,821.92 L103.36,821.54 L103.45,821.15 L103.54,820.75 L103.63,820.34 L103.73,819.93 L103.82,819.50 L103.92,819.07 L104.03,818.62 L104.13,818.17 L104.24,817.71 L104.34,817.24 L104.45,816.76 L104.57,816.28 L104.68,815.78 L104.80,815.28 L104.92,814.77 L105.04,814.25 L105.17,813.72 L105.30,813.19 L105.43,812.64 L105.56,812.09 L105.69,811.53 L105.83,810.97 L105.97,810.39 L106.11,809.81 L106.25,809.22 L106.40,808.62 L106.55,808.01 L106.70,807.40 L106.86,806.78 L107.01,806.15 L107.17,805.51 L107.33,804.87 L107.50,804.22 L107.66,803.57 L107.83,802.90 L108.00,802.23 L108.17,801.56 L108.35,800.87 L108.53,800.18 L108.71,799.49 L108.89,798.78 L109.08,798.08 L109.27,797.36 L109.46,796.64 L109.65,795.91 L109.85,795.18 L110.05,794.44 L110.25,793.70 L110.45,792.95 L110.66,792.19 L110.87,791.43 L111.08,790.66 L111.30,789.89 L111.51,789.12 L111.73,788.34 L111.95,787.55 L112.18,786.76 L112.41,785.96 L112.63,785.16 L112.87,784.36 L113.10,783.55 L113.34,782.73 L113.58,781.92 L113.82,781.09 L114.07,780.27 L114.32,779.44 L114.57,778.60 L114.82,777.77 L115.08,776.93 L115.34,776.08 L115.60,775.23 L115.86,774.38 L116.13,773.53 L116.40,772.67 L116.67,771.81 L116.95,770.94 L117.22,770.08 L117.50,769.21 L117.79,768.34 L118.07,767.46 L118.36,766.59 L118.65,765.71 L118.95,764.83 L119.24,763.94 L119.54,763.06 L119.84,762.17 L120.15,761.28 L120.46,760.39 L120.77,759.49 L121.08,758.60 L121.40,757.70 L121.71,756.80 L122.04,755.90 L122.36,755.00 L122.69,754.10 L123.02,753.20 L123.35,752.30 L123.68,751.39 L124.02,750.49 L124.36,749.58 L124.71,748.67 L125.05,747.76 L125.40,746.85 L125.75,745.95 L126.11,745.04 L126.47,744.13 L126.83,743.22 L127.19,742.31 L127.55,741.40 L127.92,740.49 L128.30,739.58 L128.67,738.67 L129.05,737.76 L129.43,736.85 L129.81,735.94 L130.20,735.03 L130.59,734.12 L130.98,733.21 L131.37,732.30 L131.77,731.40 L132.17,730.49 L132.57,729.59 L132.98,728.68 L133.39,727.78 L133.80,726.88 L134.21,725.97 L134.63,725.07 L135.05,724.17 L135.47,723.28 L135.90,722.38 L136.33,721.48 L136.76,720.59 L137.20,719.70 L137.63,718.80 L138.07,717.91 L138.52,717.03 L138.96,716.14 L139.41,715.25 L139.87,714.37 L140.32,713.49 L140.78,712.61 L141.24,711.73 L141.70,710.85 L142.17,709.98 L142.64,709.10 L143.11,708.23 L143.59,707.36 L144.07,706.50 L144.55,705.63 L145.04,704.77 L145.52,703.91 L146.01,703.05 L146.51,702.19 L147.00,701.34 L147.50,700.49 L148.01,699.64 L148.51,698.79 L149.02,697.95 L149.53,697.10 L150.05,696.26 L150.56,695.43 L151.08,694.59 L151.61,693.76 L152.13,692.93 L152.66,692.10 L153.20,691.28 L153.73,690.45 L154.27,689.63 L154.81,688.82 L155.35,688.00 L155.90,687.19 L156.45,686.38 L157.01,685.58 L157.56,684.77 L158.12,683.97 L158.69,683.17 L159.25,682.38 L159.82,681.59 L160.39,680.80 L160.97,680.01 L161.54,679.23 L162.13,678.44 L162.71,677.67 L163.30,676.89 L163.89,676.12 L164.48,675.35 L165.08,674.58 L165.67,673.82 L166.28,673.06 L166.88,672.30 L167.49,671.54 L168.10,670.79 L168.72,670.04 L169.33,669.30 L169.96,668.56 L170.58,667.82 L171.21,667.08 L171.84,666.34 L172.47,665.61 L173.11,664.89 L173.75,664.16 L174.39,663.44 L175.03,662.72 L175.68,662.00 L176.33,661.29 L176.99,660.58 L177.65,659.87 L178.31,659.17 L178.97,658.47 L179.64,657.77 L180.31,657.08 L180.98,656.39 L181.66,655.70 L182.34,655.01 L183.02,654.33 L183.71,653.65 L184.40,652.97 L185.09,652.30 L185.79,651.63 L186.48,650.96 L187.19,650.30 L187.89,649.64 L188.60,648.98 L189.31,648.33 L190.03,647.67 L190.74,647.02 L191.46,646.38 L192.19,645.73 L192.91,645.09 L193.64,644.46 L194.38,643.82 L195.11,643.19 L195.85,642.56 L196.60,641.94 L197.34,641.32 L198.09,640.70 L198.85,640.08 L199.60,639.47 L200.36,638.86 L201.12,638.25 L201.89,637.65 L202.66,637.04 L203.43,636.45 L204.20,635.85 L204.98,635.26 L205.76,634.67 L206.55,634.08 L207.33,633.49 L208.12,632.91 L208.92,632.33 L209.72,631.76 L210.52,631.19 L211.32,630.62 L212.13,630.05 L212.94,629.48 L213.75,628.92 L214.57,628.36 L215.39,627.81 L216.21,627.25 L217.04,626.70 L217.87,626.16 L218.70,625.61 L219.53,625.07 L220.37,624.53 L221.22,623.99 L222.06,623.46 L222.91,622.93 L223.76,622.40 L224.62,621.87 L225.48,621.35 L226.34,620.83 L227.21,620.31 L228.07,619.80 L228.95,619.28 L229.82,618.77 L230.70,618.27 L231.58,617.76 L232.47,617.26 L233.35,616.76 L234.25,616.26 L235.14,615.77 L236.04,615.27 L236.94,614.78 L237.84,614.30 L238.75,613.81 L239.66,613.33 L240.58,612.85 L241.50,612.37 L242.42,611.90 L243.34,611.43 L244.27,610.96 L245.20,610.49 L246.13,610.02 L247.07,609.56 L248.01,609.10 L248.96,608.64 L249.90,608.19 L250.85,607.74 L251.81,607.29 L252.77,606.84 L253.73,606.39 L254.69,605.95 L255.66,605.51 L256.63,605.07 L257.60,604.63 L258.58,604.20 L259.56,603.76 L260.54,603.33 L261.53,602.91 L262.52,602.48 L263.52,602.06 L264.51,601.64 L265.51,601.22 L266.52,600.80 L267.52,600.39 L268.54,599.97 L269.55,599.56 L270.57,599.16 L271.59,598.75 L272.61,598.35 L273.64,597.94 L274.67,597.54 L275.70,597.15 L276.74,596.75 L277.78,596.36 L278.83,595.97 L279.87,595.58 L280.93,595.19 L281.98,594.81 L283.04,594.42 L284.10,594.04 L285.16,593.66 L286.23,593.29 L287.30,592.91 L288.38,592.54 L289.45,592.17 L290.54,591.80 L291.62,591.43 L292.71,591.06 L293.80,590.70 L294.89,590.34 L295.99,589.98 L297.09,589.62 L298.20,589.26 L299.31,588.91 L300.42,588.56 L301.54,588.21 L302.65,587.86 L303.78,587.51 L304.90,587.17 L306.03,586.82 L307.16,586.48 L308.30,586.14 L309.44,585.80 L310.58,585.47 L311.73,585.13 L312.87,584.80 L314.03,584.47 L315.18,584.14 L316.34,583.81 L317.51,583.49 L318.67,583.16 L319.84,582.84 L321.02,582.52 L322.19,582.20 L323.37,581.88 L324.56,581.57 L325.74,581.25 L326.93,580.94 L328.13,580.63 L329.33,580.32 L330.53,580.01 L331.73,579.71 L332.94,579.40 L334.15,579.10 L335.36,578.80 L336.58,578.50 L337.80,578.20 L339.03,577.90 L340.26,577.61 L341.49,577.32 L342.72,577.02 L343.96,576.73 L345.21,576.44 L346.45,576.16 L347.70,575.87 L348.95,575.58 L350.21,575.30 L351.47,575.02 L352.73,574.74 L354.00,574.46 L355.27,574.18 L356.54,573.91 L357.82,573.63 L359.10,573.36 L360.38,573.09 L361.67,572.82 L362.96,572.55 L364.26,572.28 L365.55,572.01 L366.85,571.75 L368.16,571.48 L369.47,571.22 L370.78,570.96 L372.09,570.70 L373.41,570.44 L374.74,570.19 L376.06,569.93 L377.39,569.67 L378.72,569.42 L380.06,569.17 L381.40,568.92 L382.74,568.67 L384.09,568.42 L385.44,568.17 L386.79,567.93 L388.15,567.68 L389.51,567.44 L390.88,567.20 L392.24,566.96 L393.62,566.72 L394.99,566.48 L396.37,566.24 L397.75,566.01 L399.14,565.77 L400.53,565.54 L401.92,565.31 L403.31,565.08 L404.71,564.85 L406.12,564.62 L407.52,564.39 L408.93,564.16 L410.35,563.94 L411.77,563.71 L413.19,563.49 L414.61,563.27 L416.04,563.05 L417.47,562.83 L418.91,562.61 L420.34,562.39 L421.79,562.17 L423.23,561.96 L424.68,561.74 L426.13,561.53 L427.59,561.31 L429.05,561.10 L430.51,560.89 L431.98,560.68 L433.45,560.47 L434.93,560.27 L436.40,560.06 L437.88,559.86 L439.37,559.65 L440.86,559.45 L442.35,559.25 L443.85,559.04 L445.34,558.84 L446.85,558.64 L448.35,558.45 L449.86,558.25 L451.38,558.05 L452.89,557.86 L454.41,557.66 L455.94,557.47 L457.47,557.27 L459.00,557.08 L460.53,556.89 L462.07,556.70 L463.61,556.51 L465.16,556.32 L466.71,556.14 L468.26,555.95 L469.82,555.77 L471.38,555.58 L472.94,555.40 L474.51,555.21 L476.08,555.03 L477.65,554.85 L479.23,554.67 L480.81,554.49 L482.40,554.31 L483.99,554.14 L485.58,553.96 L487.18,553.78 L488.78,553.61 L490.38,553.43 L491.99,553.26 L493.60,553.09 L495.21,552.92 L496.83,552.74 L498.45,552.57 L500.07,552.40 L501.70,552.24 L503.34,552.07 L504.97,551.90 L506.61,551.73 L508.25,551.57 L509.90,551.40 L511.55,551.24 L513.21,551.08 L514.86,550.92 L516.52,550.75 L518.19,550.59 L519.86,550.43 L521.53,550.27 L523.21,550.11 L524.89,549.96 L526.57,549.80 L528.26,549.64 L529.95,549.49 L531.64,549.33 L533.34,549.18 L535.04,549.02 L536.74,548.87 L538.45,548.72 L540.16,548.57 L541.88,548.42 L543.60,548.27 L545.32,548.12 L547.05,547.97 L548.78,547.82 L550.52,547.67 L552.25,547.53 L554.00,547.38 L555.74,547.23 L557.49,547.09 L559.24,546.95 L561.00,546.80 L562.76,546.66 L564.52,546.52 L566.29,546.38 L568.06,546.24 L569.83,546.10 L571.61,545.96 L573.39,545.82 L575.18,545.68 L576.97,545.54 L578.76,545.40 L580.56,545.27 L582.36,545.13 L584.16,545.00 L585.97,544.86 L587.78,544.73 L589.60,544.60 L591.42,544.46 L593.24,544.33 L595.07,544.20 L596.90,544.07 L598.73,543.94 L600.57,543.81 L602.41,543.68 L604.25,543.55 L606.10,543.42" fill="none" stroke="#000" stroke-width="2.60" stroke-linejoin="round" stroke-dasharray="9.5 8.0" stroke-dashoffset="3.40"/>
<path d="M101.50,830.00 L101.50,829.99 L101.50,829.96 L101.50,829.90 L101.51,829.81 L101.51,829.70 L101.52,829.55 L101.53,829.37 L101.54,829.15 L101.55,828.90 L101.56,828.62 L101.58,828.30 L101.59,827.95 L101.61,827.56 L101.63,827.13 L101.65,826.67 L101.67,826.17 L101.70,825.64 L101.73,825.07 L101.75,824.47 L101.78,823.83 L101.82,823.16 L101.85,822.46 L101.89,821.72 L101.92,820.95 L101.96,820.15 L102.01,819.31 L102.05,818.45 L102.10,817.56 L102.14,816.64 L102.19,815.69 L102.24,814.71 L102.30,813.71 L102.35,812.68 L102.41,811.63 L102.47,810.56 L102.53,809.46 L102.60,808.35 L102.67,807.21 L102.73,806.06 L102.80,804.89 L102.88,803.70 L102.95,802.49 L103.03,801.28 L103.11,800.05 L103.19,798.80 L103.27,797.55 L103.36,796.28 L103.45,795.01 L103.54,793.73 L103.63,792.44 L103.73,791.14 L103.82,789.84 L103.92,788.53 L104.03,787.22 L104.13,785.91 L104.24,784.60 L104.34,783.28 L104.45,781.97 L104.57,780.66 L104.68,779.34 L104.80,778.03 L104.92,776.72 L105.04,775.42 L105.17,774.12 L105.30,772.82 L105.43,771.53 L105.56,770.25 L105.69,768.97 L105.83,767.69 L105.97,766.43 L106.11,765.17 L106.25,763.92 L106.40,762.68 L106.55,761.45 L106.70,760.22 L106.86,759.01 L107.01,757.81 L107.17,756.61 L107.33,755.43 L107.50,754.25 L107.66,753.09 L107.83,751.94 L108.00,750.80 L108.17,749.67 L108.35,748.55 L108.53,747.44 L108.71,746.35 L108.89,745.26 L109.08,744.19 L109.27,743.13 L109.46,742.08 L109.65,741.05 L109.85,740.02 L110.05,739.01 L110.25,738.01 L110.45,737.02 L110.66,736.05 L110.87,735.08 L111.08,734.13 L111.30,733.19 L111.51,732.26 L111.73,731.34 L111.95,730.44 L112.18,729.55 L112.41,728.67 L112.63,727.80 L112.87,726.94 L113.10,726.09 L113.34,725.25 L113.58,724.43 L113.82,723.62 L114.07,722.81 L114.32,722.02 L114.57,721.24 L114.82,720.47 L115.08,719.71 L115.34,718.96 L115.60,718.22 L115.86,717.49 L116.13,716.78 L116.40,716.07 L116.67,715.37 L116.95,714.68 L117.22,714.00 L117.50,713.33 L117.79,712.67 L118.07,712.02 L118.36,711.38 L118.65,710.75 L118.95,710.13 L119.24,709.51 L119.54,708.91 L119.84,708.31 L120.15,707.72 L120.46,707.14 L120.77,706.57 L121.08,706.00 L121.40,705.45 L121.71,704.90 L122.04,704.36 L122.36,703.83 L122.69,703.30 L123.02,702.79 L123.35,702.28 L123.68,701.77 L124.02,701.28 L124.36,700.79 L124.71,700.31 L125.05,699.83 L125.40,699.36 L125.75,698.90 L126.11,698.45 L126.47,698.00 L126.83,697.56 L127.19,697.12 L127.55,696.69 L127.92,696.27 L128.30,695.85 L128.67,695.44 L129.05,695.03 L129.43,694.63 L129.81,694.23 L130.20,693.84 L130.59,693.46 L130.98,693.08 L131.37,692.71 L131.77,692.34 L132.17,691.97 L132.57,691.62 L132.98,691.26 L133.39,690.91 L133.80,690.57 L134.21,690.23 L134.63,689.89 L135.05,689.56 L135.47,689.24 L135.90,688.92 L136.33,688.60 L136.76,688.29 L137.20,687.98 L137.63,687.67 L138.07,687.37 L138.52,687.08 L138.96,686.78 L139.41,686.50 L139.87,686.21 L140.32,685.93 L140.78,685.65 L141.24,685.38 L141.70,685.11 L142.17,684.84 L142.64,684.58 L143.11,684.32 L143.59,684.06 L144.07,683.81 L144.55,683.56 L145.04,683.31 L145.52,683.07 L146.01,682.83 L146.51,682.59 L147.00,682.36 L147.50,682.13 L148.01,681.90 L148.51,681.67 L149.02,681.45 L149.53,681.23 L150.05,681.01 L150.56,680.80 L151.08,680.59 L151.61,680.38 L152.13,680.17 L152.66,679.97 L153.20,679.77 L153.73,679.57 L154.27,679.37 L154.81,679.18 L155.35,678.98 L155.90,678.79 L156.45,678.61 L157.01,678.42 L157.56,678.24 L158.12,678.06 L158.69,677.88 L159.25,677.71 L159.82,677.53 L160.39,677.36 L160.97,677.19 L161.54,677.02 L162.13,676.86 L162.71,676.69 L163.30,676.53 L163.89,676.37 L164.48,676.21 L165.08,676.05 L165.67,675.90 L166.28,675.75 L166.88,675.60 L167.49,675.45 L168.10,675.30 L168.72,675.15 L169.33,675.01 L169.96,674.87 L170.58,674.72 L171.21,674.58 L171.84,674.45 L172.47,674.31 L173.11,674.18 L173.75,674.04 L174.39,673.91 L175.03,673.78 L175.68,673.65 L176.33,673.52 L176.99,673.40 L177.65,673.27 L178.31,673.15 L178.97,673.03 L179.64,672.91 L180.31,672.79 L180.98,672.67 L181.66,672.55 L182.34,672.44 L183.02,672.32 L183.71,672.21 L184.40,672.10 L185.09,671.99 L185.79,671.88 L186.48,671.77 L187.19,671.66 L187.89,671.56 L188.60,671.45 L189.31,671.35 L190.03,671.24 L190.74,671.14 L191.46,671.04 L192.19,670.94 L192.91,670.84 L193.64,670.75 L194.38,670.65 L195.11,670.55 L195.85,670.46 L196.60,670.37 L197.34,670.27 L198.09,670.18 L198.85,670.09 L199.60,670.00 L200.36,669.91 L201.12,669.82 L201.89,669.74 L202.66,669.65 L203.43,669.57 L204.20,669.48 L204.98,669.40 L205.76,669.31 L206.55,669.23 L207.33,669.15 L208.12,669.07 L208.92,668.99 L209.72,668.91 L210.52,668.83 L211.32,668.76 L212.13,668.68 L212.94,668.60 L213.75,668.53 L214.57,668.45 L215.39,668.38 L216.21,668.31 L217.04,668.23 L217.87,668.16 L218.70,668.09 L219.53,668.02 L220.37,667.95 L221.22,667.88 L222.06,667.81 L222.91,667.75 L223.76,667.68 L224.62,667.61 L225.48,667.55 L226.34,667.48 L227.21,667.42 L228.07,667.35 L228.95,667.29 L229.82,667.23 L230.70,667.16 L231.58,667.10 L232.47,667.04 L233.35,666.98 L234.25,666.92 L235.14,666.86 L236.04,666.80 L236.94,666.74 L237.84,666.68 L238.75,666.63 L239.66,666.57 L240.58,666.51 L241.50,666.46 L242.42,666.40 L243.34,666.35 L244.27,666.29 L245.20,666.24 L246.13,666.19 L247.07,666.13 L248.01,666.08 L248.96,666.03 L249.90,665.98 L250.85,665.92 L251.81,665.87 L252.77,665.82 L253.73,665.77 L254.69,665.72 L255.66,665.67 L256.63,665.63 L257.60,665.58 L258.58,665.53 L259.56,665.48 L260.54,665.44 L261.53,665.39 L262.52,665.34 L263.52,665.30 L264.51,665.25 L265.51,665.21 L266.52,665.16 L267.52,665.12 L268.54,665.07 L269.55,665.03 L270.57,664.99 L271.59,664.94 L272.61,664.90 L273.64,664.86 L274.67,664.82 L275.70,664.78 L276.74,664.73 L277.78,664.69 L278.83,664.65 L279.87,664.61 L280.93,664.57 L281.98,664.53 L283.04,664.49 L284.10,664.45 L285.16,664.42 L286.23,664.38 L287.30,664.34 L288.38,664.30 L289.45,664.26 L290.54,664.23 L291.62,664.19 L292.71,664.15 L293.80,664.12 L294.89,664.08 L295.99,664.05 L297.09,664.01 L298.20,663.98 L299.31,663.94 L300.42,663.91 L301.54,663.87 L302.65,663.84 L303.78,663.80 L304.90,663.77 L306.03,663.74 L307.16,663.70 L308.30,663.67 L309.44,663.64 L310.58,663.61 L311.73,663.57 L312.87,663.54 L314.03,663.51 L315.18,663.48 L316.34,663.45 L317.51,663.42 L318.67,663.39 L319.84,663.36 L321.02,663.33 L322.19,663.30 L323.37,663.27 L324.56,663.24 L325.74,663.21 L326.93,663.18 L328.13,663.15 L329.33,663.12 L330.53,663.09 L331.73,663.06 L332.94,663.04 L334.15,663.01 L335.36,662.98 L336.58,662.95 L337.80,662.93 L339.03,662.90 L340.26,662.87 L341.49,662.85 L342.72,662.82 L343.96,662.79 L345.21,662.77 L346.45,662.74 L347.70,662.72 L348.95,662.69 L350.21,662.66 L351.47,662.64 L352.73,662.61 L354.00,662.59 L355.27,662.56 L356.54,662.54 L357.82,662.52 L359.10,662.49 L360.38,662.47 L361.67,662.44 L362.96,662.42 L364.26,662.40 L365.55,662.37 L366.85,662.35 L368.16,662.33 L369.47,662.30 L370.78,662.28 L372.09,662.26 L373.41,662.24 L374.74,662.21 L376.06,662.19 L377.39,662.17 L378.72,662.15 L380.06,662.13 L381.40,662.11 L382.74,662.08 L384.09,662.06 L385.44,662.04 L386.79,662.02 L388.15,662.00 L389.51,661.98 L390.88,661.96 L392.24,661.94 L393.62,661.92 L394.99,661.90 L396.37,661.88 L397.75,661.86 L399.14,661.84 L400.53,661.82 L401.92,661.80 L403.31,661.78 L404.71,661.76 L406.12,661.74 L407.52,661.72 L408.93,661.70 L410.35,661.69 L411.77,661.67 L413.19,661.65 L414.61,661.63 L416.04,661.61 L417.47,661.59 L418.91,661.58 L420.34,661.56 L421.79,661.54 L423.23,661.52 L424.68,661.50 L426.13,661.49 L427.59,661.47 L429.05,661.45 L430.51,661.44 L431.98,661.42 L433.45,661.40 L434.93,661.38 L436.40,661.37 L437.88,661.35 L439.37,661.34 L440.86,661.32 L442.35,661.30 L443.85,661.29 L445.34,661.27 L446.85,661.25 L448.35,661.24 L449.86,661.22 L451.38,661.21 L452.89,661.19 L454.41,661.18 L455.94,661.16 L457.47,661.14 L459.00,661.13 L460.53,661.11 L462.07,661.10 L463.61,661.08 L465.16,661.07 L466.71,661.05 L468.26,661.04 L469.82,661.03 L471.38,661.01 L472.94,661.00 L474.51,660.98 L476.08,660.97 L477.65,660.95 L479.23,660.94 L480.81,660.93 L482.40,660.91 L483.99,660.90 L485.58,660.88 L487.18,660.87 L488.78,660.86 L490.38,660.84 L491.99,660.83 L493.60,660.82 L495.21,660.80 L496.83,660.79 L498.45,660.78 L500.07,660.76 L501.70,660.75 L503.34,660.74 L504.97,660.73 L506.61,660.71 L508.25,660.70 L509.90,660.69 L511.55,660.67 L513.21,660.66 L514.86,660.65 L516.52,660.64 L518.19,660.63 L519.86,660.61 L521.53,660.60 L523.21,660.59 L524.89,660.58 L526.57,660.56 L528.26,660.55 L529.95,660.54 L531.64,660.53 L533.34,660.52 L535.04,660.51 L536.74,660.49 L538.45,660.48 L540.16,660.47 L541.88,660.46 L543.60,660.45 L545.32,660.44 L547.05,660.43 L548.78,660.42 L550.52,660.40 L552.25,660.39 L554.00,660.38 L555.74,660.37 L557.49,660.36 L559.24,660.35 L561.00,660.34 L562.76,660.33 L564.52,660.32 L566.29,660.31 L568.06,660.30 L569.83,660.29 L571.61,660.28 L573.39,660.27 L575.18,660.26 L576.97,660.25 L578.76,660.24 L580.56,660.23 L582.36,660.22 L584.16,660.21 L585.97,660.20 L587.78,660.19 L589.60,660.18 L591.42,660.17 L593.24,660.16 L595.07,660.15 L596.90,660.14 L598.73,660.13 L600.57,660.12 L602.41,660.11 L604.25,660.10 L606.10,660.09" fill="none" stroke="#000" stroke-width="2.60" stroke-linejoin="round" stroke-dasharray="9.5 8.0" stroke-dashoffset="4.10"/>
<path d="M101.50,830.00 L101.50,826.71 L101.50,824.62 L101.50,822.83 L101.51,821.21 L101.51,819.70 L101.52,818.28 L101.53,816.93 L101.54,815.63 L101.55,814.38 L101.56,813.17 L101.58,812.00 L101.59,810.85 L101.61,809.74 L101.63,808.64 L101.65,807.57 L101.67,806.52 L101.70,805.49 L101.73,804.48 L101.75,803.49 L101.78,802.50 L101.82,801.54 L101.85,800.58 L101.89,799.64 L101.92,798.71 L101.96,797.80 L102.01,796.89 L102.05,795.99 L102.10,795.10 L102.14,794.22 L102.19,793.36 L102.24,792.49 L102.30,791.64 L102.35,790.80 L102.41,789.96 L102.47,789.13 L102.53,788.30 L102.60,787.49 L102.67,786.67 L102.73,785.87 L102.80,785.07 L102.88,784.28 L102.95,783.49 L103.03,782.71 L103.11,781.93 L103.19,781.16 L103.27,780.40 L103.36,779.63 L103.45,778.88 L103.54,778.13 L103.63,777.38 L103.73,776.63 L103.82,775.90 L103.92,775.16 L104.03,774.43 L104.13,773.70 L104.24,772.98 L104.34,772.26 L104.45,771.54 L104.57,770.83 L104.68,770.12 L104.80,769.42 L104.92,768.72 L105.04,768.02 L105.17,767.32 L105.30,766.63 L105.43,765.94 L105.56,765.25 L105.69,764.57 L105.83,763.89 L105.97,763.21 L106.11,762.54 L106.25,761.87 L106.40,761.20 L106.55,760.53 L106.70,759.87 L106.86,759.21 L107.01,758.55 L107.17,757.89 L107.33,757.24 L107.50,756.59 L107.66,755.94 L107.83,755.29 L108.00,754.65 L108.17,754.01 L108.35,753.37 L108.53,752.73 L108.71,752.09 L108.89,751.46 L109.08,750.83 L109.27,750.20 L109.46,749.57 L109.65,748.95 L109.85,748.32 L110.05,747.70 L110.25,747.08 L110.45,746.47 L110.66,745.85 L110.87,745.24 L111.08,744.63 L111.30,744.02 L111.51,743.41 L111.73,742.80 L111.95,742.20 L112.18,741.59 L112.41,740.99 L112.63,740.39 L112.87,739.79 L113.10,739.20 L113.34,738.60 L113.58,738.01 L113.82,737.42 L114.07,736.83 L114.32,736.24 L114.57,735.65 L114.82,735.07 L115.08,734.48 L115.34,733.90 L115.60,733.32 L115.86,732.74 L116.13,732.16 L116.40,731.58 L116.67,731.01 L116.95,730.43 L117.22,729.86 L117.50,729.29 L117.79,728.72 L118.07,728.15 L118.36,727.58 L118.65,727.02 L118.95,726.45 L119.24,725.89 L119.54,725.33 L119.84,724.77 L120.15,724.21 L120.46,723.65 L120.77,723.09 L121.08,722.53 L121.40,721.98 L121.71,721.42 L122.04,720.87 L122.36,720.32 L122.69,719.77 L123.02,719.22 L123.35,718.67 L123.68,718.12 L124.02,717.58 L124.36,717.03 L124.71,716.49 L125.05,715.95 L125.40,715.41 L125.75,714.87 L126.11,714.33 L126.47,713.79 L126.83,713.25 L127.19,712.71 L127.55,712.18 L127.92,711.64 L128.30,711.11 L128.67,710.58 L129.05,710.04 L129.43,709.51 L129.81,708.98 L130.20,708.46 L130.59,707.93 L130.98,707.40 L131.37,706.88 L131.77,706.35 L132.17,705.83 L132.57,705.30 L132.98,704.78 L133.39,704.26 L133.80,703.74 L134.21,703.22 L134.63,702.70 L135.05,702.18 L135.47,701.67 L135.90,701.15 L136.33,700.63 L136.76,700.12 L137.20,699.61 L137.63,699.09 L138.07,698.58 L138.52,698.07 L138.96,697.56 L139.41,697.05 L139.87,696.54 L140.32,696.03 L140.78,695.53 L141.24,695.02 L141.70,694.52 L142.17,694.01 L142.64,693.51 L143.11,693.00 L143.59,692.50 L144.07,692.00 L144.55,691.50 L145.04,691.00 L145.52,690.50 L146.01,690.00 L146.51,689.50 L147.00,689.00 L147.50,688.51 L148.01,688.01 L148.51,687.52 L149.02,687.02 L149.53,686.53 L150.05,686.04 L150.56,685.54 L151.08,685.05 L151.61,684.56 L152.13,684.07 L152.66,683.58 L153.20,683.09 L153.73,682.60 L154.27,682.12 L154.81,681.63 L155.35,681.14 L155.90,680.66 L156.45,680.17 L157.01,679.69 L157.56,679.20 L158.12,678.72 L158.69,678.24 L159.25,677.76 L159.82,677.28 L160.39,676.80 L160.97,676.32 L161.54,675.84 L162.13,675.36 L162.71,674.88 L163.30,674.40 L163.89,673.93 L164.48,673.45 L165.08,672.97 L165.67,672.50 L166.28,672.02 L166.88,671.55 L167.49,671.08 L168.10,670.60 L168.72,670.13 L169.33,669.66 L169.96,669.19 L170.58,668.72 L171.21,668.25 L171.84,667.78 L172.47,667.31 L173.11,666.84 L173.75,666.38 L174.39,665.91 L175.03,665.44 L175.68,664.98 L176.33,664.51 L176.99,664.04 L177.65,663.58 L178.31,663.12 L178.97,662.65 L179.64,662.19 L180.31,661.73 L180.98,661.27 L181.66,660.81 L182.34,660.34 L183.02,659.88 L183.71,659.42 L184.40,658.97 L185.09,658.51 L185.79,658.05 L186.48,657.59 L187.19,657.13 L187.89,656.68 L188.60,656.22 L189.31,655.76 L190.03,655.31 L190.74,654.86 L191.46,654.40 L192.19,653.95 L192.91,653.49 L193.64,653.04 L194.38,652.59 L195.11,652.14 L195.85,651.69 L196.60,651.23 L197.34,650.78 L198.09,650.33 L198.85,649.88 L199.60,649.44 L200.36,648.99 L201.12,648.54 L201.89,648.09 L202.66,647.64 L203.43,647.20 L204.20,646.75 L204.98,646.31 L205.76,645.86 L206.55,645.41 L207.33,644.97 L208.12,644.53 L208.92,644.08 L209.72,643.64 L210.52,643.20 L211.32,642.75 L212.13,642.31 L212.94,641.87 L213.75,641.43 L214.57,640.99 L215.39,640.55 L216.21,640.11 L217.04,639.67 L217.87,639.23 L218.70,638.79 L219.53,638.35 L220.37,637.92 L221.22,637.48 L222.06,637.04 L222.91,636.61 L223.76,636.17 L224.62,635.73 L225.48,635.30 L226.34,634.86 L227.21,634.43 L228.07,633.99 L228.95,633.56 L229.82,633.13 L230.70,632.69 L231.58,632.26 L232.47,631.83 L233.35,631.40 L234.25,630.97 L235.14,630.54 L236.04,630.11 L236.94,629.67 L237.84,629.25 L238.75,628.82 L239.66,628.39 L240.58,627.96 L241.50,627.53 L242.42,627.10 L243.34,626.67 L244.27,626.25 L245.20,625.82 L246.13,625.39 L247.07,624.97 L248.01,624.54 L248.96,624.12 L249.90,623.69 L250.85,623.27 L251.81,622.84 L252.77,622.42 L253.73,621.99 L254.69,621.57 L255.66,621.15 L256.63,620.73 L257.60,620.30 L258.58,619.88 L259.56,619.46 L260.54,619.04 L261.53,618.62 L262.52,618.20 L263.52,617.78 L264.51,617.36 L265.51,616.94 L266.52,616.52 L267.52,616.10 L268.54,615.68 L269.55,615.26 L270.57,614.85 L271.59,614.43 L272.61,614.01 L273.64,613.60 L274.67,613.18 L275.70,612.76 L276.74,612.35 L277.78,611.93 L278.83,611.52 L279.87,611.10 L280.93,610.69 L281.98,610.27 L283.04,609.86 L284.10,609.45 L285.16,609.03 L286.23,608.62 L287.30,608.21 L288.38,607.80 L289.45,607.38 L290.54,606.97 L291.62,606.56 L292.71,606.15 L293.80,605.74 L294.89,605.33 L295.99,604.92 L297.09,604.51 L298.20,604.10 L299.31,603.69 L300.42,603.28 L301.54,602.87 L302.65,602.46 L303.78,602.06 L304.90,601.65 L306.03,601.24 L307.16,600.83 L308.30,600.43 L309.44,600.02 L310.58,599.62 L311.73,599.21 L312.87,598.80 L314.03,598.40 L315.18,597.99 L316.34,597.59 L317.51,597.18 L318.67,596.78 L319.84,596.38 L321.02,595.97 L322.19,595.57 L323.37,595.17 L324.56,594.76 L325.74,594.36 L326.93,593.96 L328.13,593.56 L329.33,593.16 L330.53,592.76 L331.73,592.35 L332.94,591.95 L334.15,591.55 L335.36,591.15 L336.58,590.75 L337.80,590.35 L339.03,589.95 L340.26,589.56 L341.49,589.16 L342.72,588.76 L343.96,588.36 L345.21,587.96 L346.45,587.56 L347.70,587.17 L348.95,586.77 L350.21,586.37 L351.47,585.98 L352.73,585.58 L354.00,585.18 L355.27,584.79 L356.54,584.39 L357.82,584.00 L359.10,583.60 L360.38,583.21 L361.67,582.81 L362.96,582.42 L364.26,582.02 L365.55,581.63 L366.85,581.24 L368.16,580.84 L369.47,580.45 L370.78,580.06 L372.09,579.67 L373.41,579.27 L374.74,578.88 L376.06,578.49 L377.39,578.10 L378.72,577.71 L380.06,577.32 L381.40,576.93 L382.74,576.54 L384.09,576.14 L385.44,575.75 L386.79,575.37 L388.15,574.98 L389.51,574.59 L390.88,574.20 L392.24,573.81 L393.62,573.42 L394.99,573.03 L396.37,572.64 L397.75,572.26 L399.14,571.87 L400.53,571.48 L401.92,571.09 L403.31,570.71 L404.71,570.32 L406.12,569.93 L407.52,569.55 L408.93,569.16 L410.35,568.78 L411.77,568.39 L413.19,568.01 L414.61,567.62 L416.04,567.24 L417.47,566.85 L418.91,566.47 L420.34,566.08 L421.79,565.70 L423.23,565.32 L424.68,564.93 L426.13,564.55 L427.59,564.17 L429.05,563.78 L430.51,563.40 L431.98,563.02 L433.45,562.64 L434.93,562.26 L436.40,561.87 L437.88,561.49 L439.37,561.11 L440.86,560.73 L442.35,560.35 L443.85,559.97 L445.34,559.59 L446.85,559.21 L448.35,558.83 L449.86,558.45 L451.38,558.07 L452.89,557.69 L454.41,557.31 L455.94,556.94 L457.47,556.56 L459.00,556.18 L460.53,555.80 L462.07,555.42 L463.61,555.05 L465.16,554.67 L466.71,554.29 L468.26,553.91 L469.82,553.54 L471.38,553.16 L472.94,552.78 L474.51,552.41 L476.08,552.03 L477.65,551.66 L479.23,551.28 L480.81,550.91 L482.40,550.53 L483.99,550.16 L485.58,549.78 L487.18,549.41 L488.78,549.03 L490.38,548.66 L491.99,548.28 L493.60,547.91 L495.21,547.54 L496.83,547.16 L498.45,546.79 L500.07,546.42 L501.70,546.05 L503.34,545.67 L504.97,545.30 L506.61,544.93 L508.25,544.56 L509.90,544.19 L511.55,543.81 L513.21,543.44 L514.86,543.07 L516.52,542.70 L518.19,542.33 L519.86,541.96 L521.53,541.59 L523.21,541.22 L524.89,540.85 L526.57,540.48 L528.26,540.11 L529.95,539.74 L531.64,539.37 L533.34,539.00 L535.04,538.64 L536.74,538.27 L538.45,537.90 L540.16,537.53 L541.88,537.16 L543.60,536.80 L545.32,536.43 L547.05,536.06 L548.78,535.69 L550.52,535.33 L552.25,534.96 L554.00,534.59 L555.74,534.23 L557.49,533.86 L559.24,533.49 L561.00,533.13 L562.76,532.76 L564.52,532.40 L566.29,532.03 L568.06,531.67 L569.83,531.30 L571.61,530.94 L573.39,530.57 L575.18,530.21 L576.97,529.84 L578.76,529.48 L580.56,529.12 L582.36,528.75 L584.16,528.39 L585.97,528.03 L587.78,527.66 L589.60,527.30 L591.42,526.94 L593.24,526.57 L595.07,526.21 L596.90,525.85 L598.73,525.49 L600.57,525.13 L602.41,524.76 L604.25,524.40 L606.10,524.04" fill="none" stroke="#000" stroke-width="2.60" stroke-linejoin="round"/>
<path d="M101.50,830.00 L101.50,804.91 L101.50,798.85 L101.50,794.64 L101.51,791.32 L101.51,788.53 L101.52,786.10 L101.53,783.93 L101.54,781.97 L101.55,780.17 L101.56,778.50 L101.58,776.94 L101.59,775.48 L101.61,774.10 L101.63,772.79 L101.65,771.54 L101.67,770.35 L101.70,769.21 L101.73,768.12 L101.75,767.06 L101.78,766.05 L101.82,765.07 L101.85,764.11 L101.89,763.19 L101.92,762.30 L101.96,761.43 L102.01,760.58 L102.05,759.76 L102.10,758.96 L102.14,758.18 L102.19,757.41 L102.24,756.66 L102.30,755.93 L102.35,755.22 L102.41,754.52 L102.47,753.83 L102.53,753.16 L102.60,752.50 L102.67,751.85 L102.73,751.21 L102.80,750.59 L102.88,749.97 L102.95,749.37 L103.03,748.77 L103.11,748.19 L103.19,747.61 L103.27,747.04 L103.36,746.48 L103.45,745.93 L103.54,745.39 L103.63,744.85 L103.73,744.32 L103.82,743.80 L103.92,743.29 L104.03,742.78 L104.13,742.28 L104.24,741.78 L104.34,741.29 L104.45,740.81 L104.57,740.33 L104.68,739.86 L104.80,739.39 L104.92,738.93 L105.04,738.48 L105.17,738.03 L105.30,737.58 L105.43,737.14 L105.56,736.70 L105.69,736.27 L105.83,735.84 L105.97,735.41 L106.11,734.99 L106.25,734.58 L106.40,734.17 L106.55,733.76 L106.70,733.35 L106.86,732.95 L107.01,732.56 L107.17,732.16 L107.33,731.77 L107.50,731.39 L107.66,731.00 L107.83,730.62 L108.00,730.24 L108.17,729.87 L108.35,729.50 L108.53,729.13 L108.71,728.77 L108.89,728.40 L109.08,728.05 L109.27,727.69 L109.46,727.34 L109.65,726.98 L109.85,726.64 L110.05,726.29 L110.25,725.95 L110.45,725.61 L110.66,725.27 L110.87,724.93 L111.08,724.60 L111.30,724.27 L111.51,723.94 L111.73,723.61 L111.95,723.28 L112.18,722.96 L112.41,722.64 L112.63,722.32 L112.87,722.01 L113.10,721.69 L113.34,721.38 L113.58,721.07 L113.82,720.76 L114.07,720.46 L114.32,720.15 L114.57,719.85 L114.82,719.55 L115.08,719.25 L115.34,718.95 L115.60,718.65 L115.86,718.36 L116.13,718.07 L116.40,717.78 L116.67,717.49 L116.95,717.20 L117.22,716.92 L117.50,716.63 L117.79,716.35 L118.07,716.07 L118.36,715.79 L118.65,715.51 L118.95,715.23 L119.24,714.96 L119.54,714.69 L119.84,714.41 L120.15,714.14 L120.46,713.87 L120.77,713.61 L121.08,713.34 L121.40,713.07 L121.71,712.81 L122.04,712.55 L122.36,712.28 L122.69,712.02 L123.02,711.77 L123.35,711.51 L123.68,711.25 L124.02,711.00 L124.36,710.74 L124.71,710.49 L125.05,710.24 L125.40,709.99 L125.75,709.74 L126.11,709.49 L126.47,709.24 L126.83,709.00 L127.19,708.75 L127.55,708.51 L127.92,708.27 L128.30,708.02 L128.67,707.78 L129.05,707.54 L129.43,707.30 L129.81,707.07 L130.20,706.83 L130.59,706.59 L130.98,706.36 L131.37,706.13 L131.77,705.89 L132.17,705.66 L132.57,705.43 L132.98,705.20 L133.39,704.97 L133.80,704.74 L134.21,704.52 L134.63,704.29 L135.05,704.07 L135.47,703.84 L135.90,703.62 L136.33,703.40 L136.76,703.17 L137.20,702.95 L137.63,702.73 L138.07,702.51 L138.52,702.30 L138.96,702.08 L139.41,701.86 L139.87,701.65 L140.32,701.43 L140.78,701.22 L141.24,701.00 L141.70,700.79 L142.17,700.58 L142.64,700.37 L143.11,700.16 L143.59,699.95 L144.07,699.74 L144.55,699.53 L145.04,699.32 L145.52,699.11 L146.01,698.91 L146.51,698.70 L147.00,698.50 L147.50,698.29 L148.01,698.09 L148.51,697.89 L149.02,697.69 L149.53,697.48 L150.05,697.28 L150.56,697.08 L151.08,696.88 L151.61,696.69 L152.13,696.49 L152.66,696.29 L153.20,696.09 L153.73,695.90 L154.27,695.70 L154.81,695.51 L155.35,695.31 L155.90,695.12 L156.45,694.93 L157.01,694.73 L157.56,694.54 L158.12,694.35 L158.69,694.16 L159.25,693.97 L159.82,693.78 L160.39,693.59 L160.97,693.40 L161.54,693.22 L162.13,693.03 L162.71,692.84 L163.30,692.66 L163.89,692.47 L164.48,692.29 L165.08,692.10 L165.67,691.92 L166.28,691.73 L166.88,691.55 L167.49,691.37 L168.10,691.19 L168.72,691.01 L169.33,690.83 L169.96,690.65 L170.58,690.47 L171.21,690.29 L171.84,690.11 L172.47,689.93 L173.11,689.75 L173.75,689.58 L174.39,689.40 L175.03,689.22 L175.68,689.05 L176.33,688.87 L176.99,688.70 L177.65,688.52 L178.31,688.35 L178.97,688.18 L179.64,688.00 L180.31,687.83 L180.98,687.66 L181.66,687.49 L182.34,687.32 L183.02,687.15 L183.71,686.98 L184.40,686.81 L185.09,686.64 L185.79,686.47 L186.48,686.30 L187.19,686.13 L187.89,685.96 L188.60,685.80 L189.31,685.63 L190.03,685.46 L190.74,685.30 L191.46,685.13 L192.19,684.97 L192.91,684.80 L193.64,684.64 L194.38,684.48 L195.11,684.31 L195.85,684.15 L196.60,683.99 L197.34,683.82 L198.09,683.66 L198.85,683.50 L199.60,683.34 L200.36,683.18 L201.12,683.02 L201.89,682.86 L202.66,682.70 L203.43,682.54 L204.20,682.38 L204.98,682.22 L205.76,682.07 L206.55,681.91 L207.33,681.75 L208.12,681.60 L208.92,681.44 L209.72,681.28 L210.52,681.13 L211.32,680.97 L212.13,680.82 L212.94,680.66 L213.75,680.51 L214.57,680.35 L215.39,680.20 L216.21,680.05 L217.04,679.89 L217.87,679.74 L218.70,679.59 L219.53,679.44 L220.37,679.29 L221.22,679.13 L222.06,678.98 L222.91,678.83 L223.76,678.68 L224.62,678.53 L225.48,678.38 L226.34,678.23 L227.21,678.09 L228.07,677.94 L228.95,677.79 L229.82,677.64 L230.70,677.49 L231.58,677.35 L232.47,677.20 L233.35,677.05 L234.25,676.91 L235.14,676.76 L236.04,676.61 L236.94,676.47 L237.84,676.32 L238.75,676.18 L239.66,676.03 L240.58,675.89 L241.50,675.74 L242.42,675.60 L243.34,675.46 L244.27,675.31 L245.20,675.17 L246.13,675.03 L247.07,674.89 L248.01,674.74 L248.96,674.60 L249.90,674.46 L250.85,674.32 L251.81,674.18 L252.77,674.04 L253.73,673.90 L254.69,673.76 L255.66,673.62 L256.63,673.48 L257.60,673.34 L258.58,673.20 L259.56,673.06 L260.54,672.92 L261.53,672.79 L262.52,672.65 L263.52,672.51 L264.51,672.37 L265.51,672.24 L266.52,672.10 L267.52,671.96 L268.54,671.83 L269.55,671.69 L270.57,671.56 L271.59,671.42 L272.61,671.29 L273.64,671.15 L274.67,671.02 L275.70,670.88 L276.74,670.75 L277.78,670.61 L278.83,670.48 L279.87,670.35 L280.93,670.21 L281.98,670.08 L283.04,669.95 L284.10,669.81 L285.16,669.68 L286.23,669.55 L287.30,669.42 L288.38,669.29 L289.45,669.16 L290.54,669.02 L291.62,668.89 L292.71,668.76 L293.80,668.63 L294.89,668.50 L295.99,668.37 L297.09,668.24 L298.20,668.11 L299.31,667.98 L300.42,667.85 L301.54,667.73 L302.65,667.60 L303.78,667.47 L304.90,667.34 L306.03,667.21 L307.16,667.09 L308.30,666.96 L309.44,666.83 L310.58,666.70 L311.73,666.58 L312.87,666.45 L314.03,666.32 L315.18,666.20 L316.34,666.07 L317.51,665.95 L318.67,665.82 L319.84,665.70 L321.02,665.57 L322.19,665.45 L323.37,665.32 L324.56,665.20 L325.74,665.07 L326.93,664.95 L328.13,664.82 L329.33,664.70 L330.53,664.58 L331.73,664.45 L332.94,664.33 L334.15,664.21 L335.36,664.09 L336.58,663.96 L337.80,663.84 L339.03,663.72 L340.26,663.60 L341.49,663.48 L342.72,663.35 L343.96,663.23 L345.21,663.11 L346.45,662.99 L347.70,662.87 L348.95,662.75 L350.21,662.63 L351.47,662.51 L352.73,662.39 L354.00,662.27 L355.27,662.15 L356.54,662.03 L357.82,661.91 L359.10,661.79 L360.38,661.67 L361.67,661.55 L362.96,661.44 L364.26,661.32 L365.55,661.20 L366.85,661.08 L368.16,660.96 L369.47,660.85 L370.78,660.73 L372.09,660.61 L373.41,660.50 L374.74,660.38 L376.06,660.26 L377.39,660.15 L378.72,660.03 L380.06,659.91 L381.40,659.80 L382.74,659.68 L384.09,659.57 L385.44,659.45 L386.79,659.34 L388.15,659.22 L389.51,659.11 L390.88,658.99 L392.24,658.88 L393.62,658.76 L394.99,658.65 L396.37,658.53 L397.75,658.42 L399.14,658.31 L400.53,658.19 L401.92,658.08 L403.31,657.97 L404.71,657.85 L406.12,657.74 L407.52,657.63 L408.93,657.51 L410.35,657.40 L411.77,657.29 L413.19,657.18 L414.61,657.07 L416.04,656.95 L417.47,656.84 L418.91,656.73 L420.34,656.62 L421.79,656.51 L423.23,656.40 L424.68,656.29 L426.13,656.18 L427.59,656.07 L429.05,655.95 L430.51,655.84 L431.98,655.73 L433.45,655.62 L434.93,655.52 L436.40,655.41 L437.88,655.30 L439.37,655.19 L440.86,655.08 L442.35,654.97 L443.85,654.86 L445.34,654.75 L446.85,654.64 L448.35,654.53 L449.86,654.43 L451.38,654.32 L452.89,654.21 L454.41,654.10 L455.94,653.99 L457.47,653.89 L459.00,653.78 L460.53,653.67 L462.07,653.56 L463.61,653.46 L465.16,653.35 L466.71,653.24 L468.26,653.14 L469.82,653.03 L471.38,652.93 L472.94,652.82 L474.51,652.71 L476.08,652.61 L477.65,652.50 L479.23,652.40 L480.81,652.29 L482.40,652.19 L483.99,652.08 L485.58,651.98 L487.18,651.87 L488.78,651.77 L490.38,651.66 L491.99,651.56 L493.60,651.45 L495.21,651.35 L496.83,651.24 L498.45,651.14 L500.07,651.04 L501.70,650.93 L503.34,650.83 L504.97,650.73 L506.61,650.62 L508.25,650.52 L509.90,650.42 L511.55,650.31 L513.21,650.21 L514.86,650.11 L516.52,650.01 L518.19,649.90 L519.86,649.80 L521.53,649.70 L523.21,649.60 L524.89,649.50 L526.57,649.39 L528.26,649.29 L529.95,649.19 L531.64,649.09 L533.34,648.99 L535.04,648.89 L536.74,648.79 L538.45,648.68 L540.16,648.58 L541.88,648.48 L543.60,648.38 L545.32,648.28 L547.05,648.18 L548.78,648.08 L550.52,647.98 L552.25,647.88 L554.00,647.78 L555.74,647.68 L557.49,647.58 L559.24,647.48 L561.00,647.39 L562.76,647.29 L564.52,647.19 L566.29,647.09 L568.06,646.99 L569.83,646.89 L571.61,646.79 L573.39,646.69 L575.18,646.60 L576.97,646.50 L578.76,646.40 L580.56,646.30 L582.36,646.20 L584.16,646.11 L585.97,646.01 L587.78,645.91 L589.60,645.81 L591.42,645.72 L593.24,645.62 L595.07,645.52 L596.90,645.42 L598.73,645.33 L600.57,645.23 L602.41,645.13 L604.25,645.04 L606.10,644.94" fill="none" stroke="#000" stroke-width="2.60" stroke-linejoin="round"/>
<text x="112.1" y="495.8" class="big">(b)</text>
<circle cx="460.60" cy="713.00" r="6.30" fill="#ff00ff"/>
<path d="M460.60,737.75 L466.80,749.25 L454.40,749.25 Z" fill="#1b9f8d"/>
<line x1="443.7" y1="773.3" x2="477.1" y2="773.3" stroke="#000" stroke-width="2.8" stroke-dasharray="9.4 8"/>
<line x1="443.7" y1="803" x2="477.1" y2="803" stroke="#000" stroke-width="2.8"/>
<text x="486.5" y="720.7" class="t">SMX</text>
<text x="486.5" y="751.3" class="t">SPY</text>
<text x="486.5" y="781.0" class="t">Langmuir</text>
<text x="486.5" y="810.7" class="t">Freudlich</text>
<text x="347.2" y="887.2" text-anchor="middle" class="t" style="font-size:22.45px">Equilibrium Concentration, Ce (mg/L)</text>
<text transform="translate(21.3,646.2) rotate(-90)" text-anchor="middle" class="t" style="font-size:22.6px">Sorption Capacity, Qe (mg/kg)</text>
</svg></body></html>
